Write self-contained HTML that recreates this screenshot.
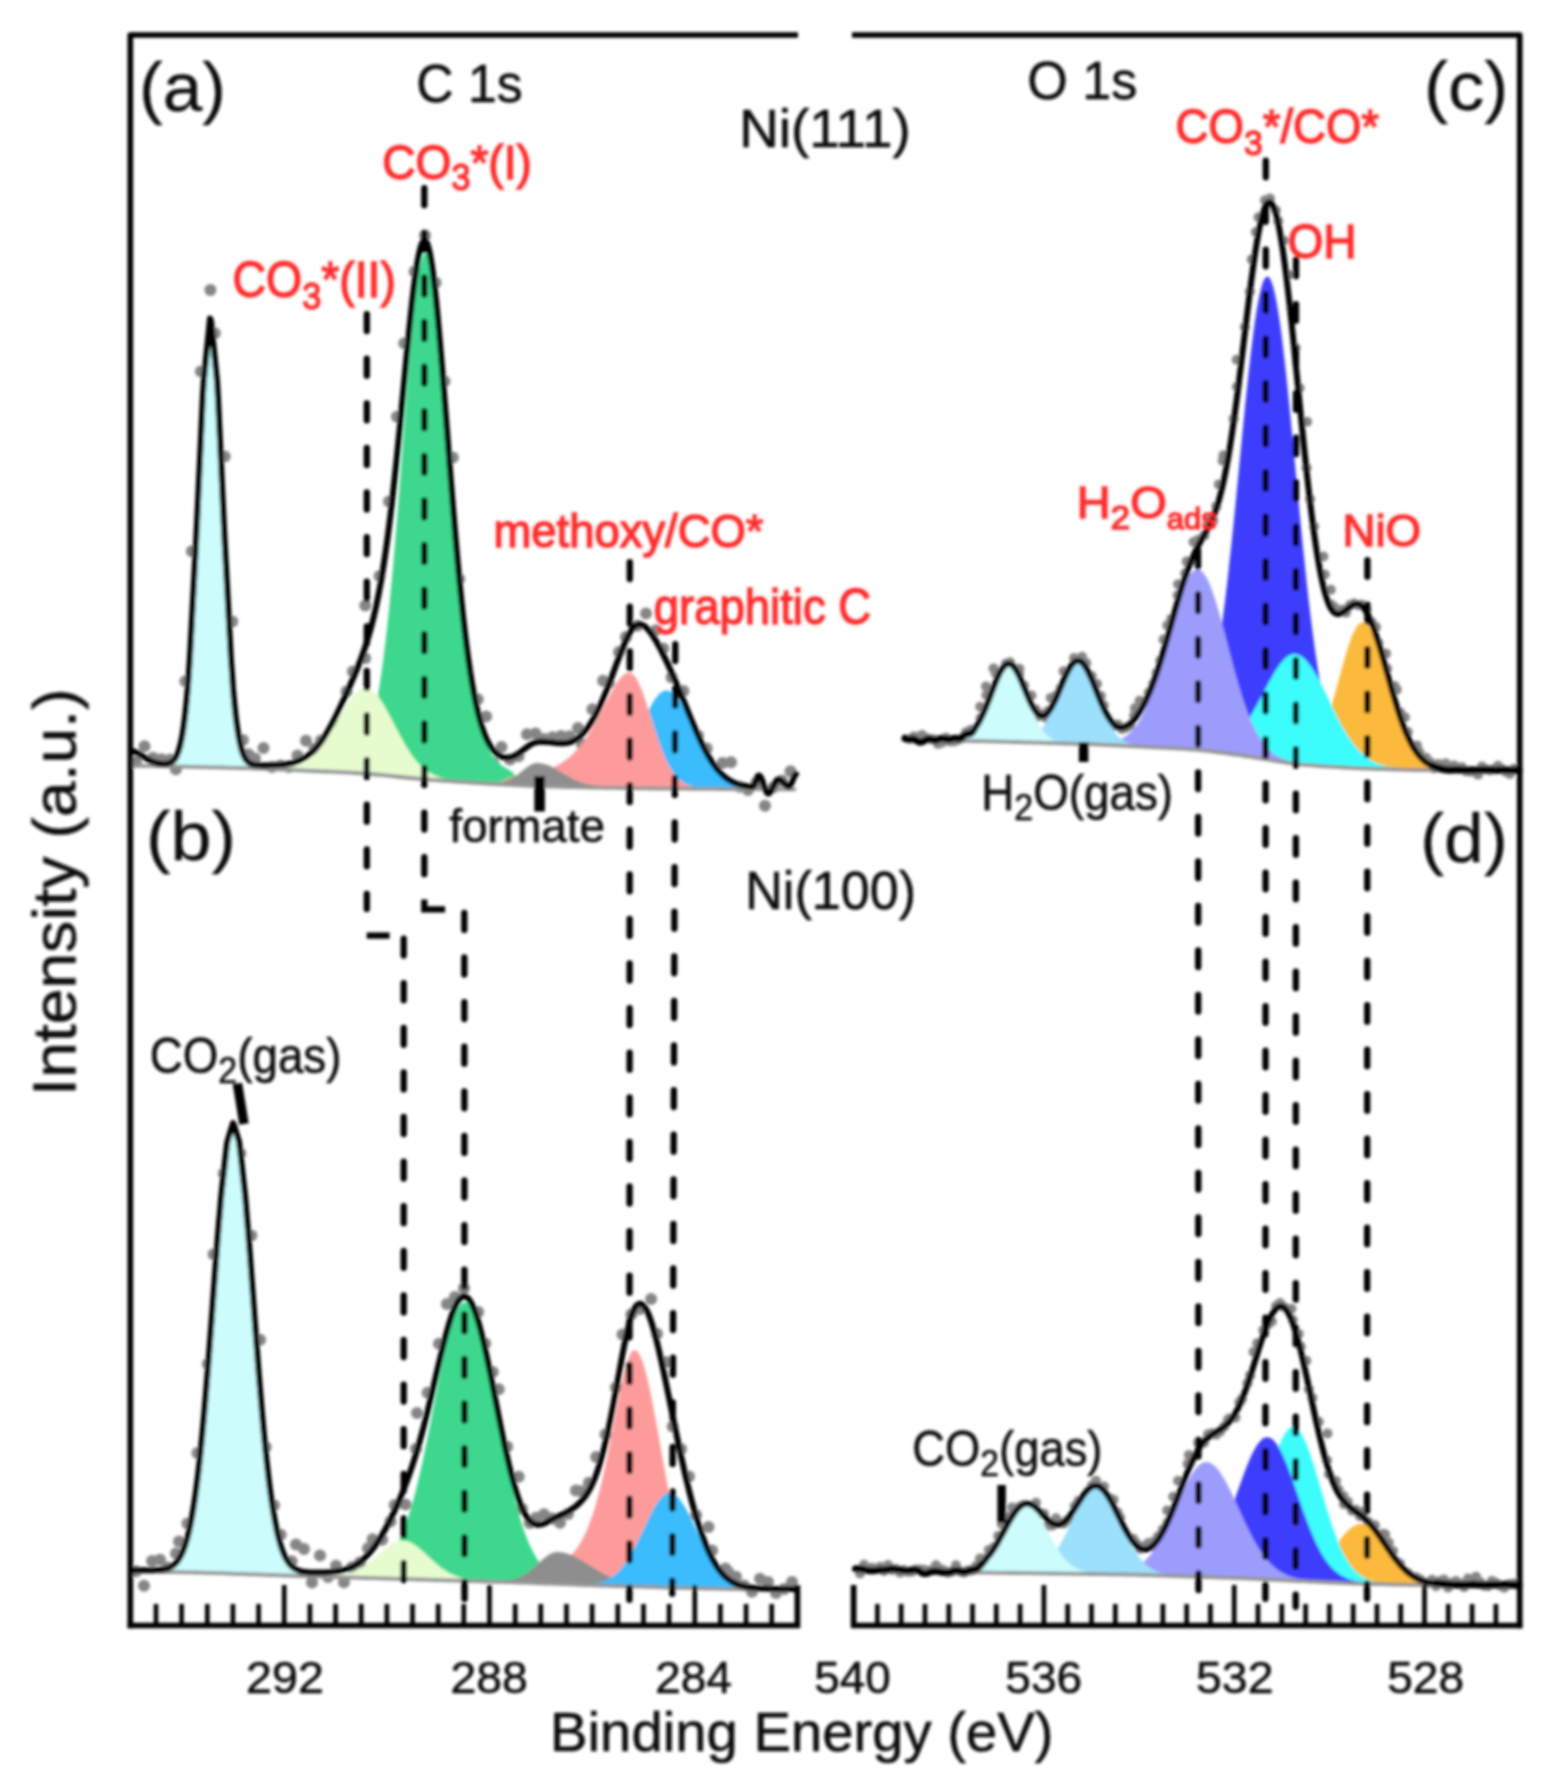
<!DOCTYPE html>
<html><head><meta charset="utf-8"><title>XPS C 1s / O 1s</title>
<style>
html,body{margin:0;padding:0;background:#fff}
svg{display:block}
text{font-family:"Liberation Sans",sans-serif}
</style></head><body>
<svg width="1548" height="1784" viewBox="0 0 1548 1784">
<defs><filter id="bl" x="0" y="0" width="1548" height="1784" filterUnits="userSpaceOnUse"><feGaussianBlur stdDeviation="1.4"/></filter></defs>
<rect width="1548" height="1784" fill="#fff"/>
<g filter="url(#bl)">
<g fill="#858585"><circle cx="136" cy="762" r="6"/><circle cx="144.5" cy="746.2" r="6"/><circle cx="153" cy="757.7" r="6"/><circle cx="161.5" cy="759.2" r="6"/><circle cx="170" cy="759.6" r="6"/><circle cx="175.9" cy="769.3" r="6"/><circle cx="185.4" cy="681.2" r="6"/><circle cx="191.9" cy="551.2" r="6"/><circle cx="200.9" cy="371.4" r="6"/><circle cx="214.8" cy="333.3" r="6"/><circle cx="224.7" cy="456.6" r="6"/><circle cx="232.3" cy="621.4" r="6"/><circle cx="242.9" cy="740.1" r="6"/><circle cx="248.3" cy="754.3" r="6"/><circle cx="255" cy="758.6" r="6"/><circle cx="263.5" cy="747.9" r="6"/><circle cx="272" cy="767" r="6"/><circle cx="280.5" cy="765.6" r="6"/><circle cx="289" cy="767.1" r="6"/><circle cx="297.5" cy="755.6" r="6"/><circle cx="306" cy="740.8" r="6"/><circle cx="314.5" cy="748.7" r="6"/><circle cx="321" cy="740.5" r="6"/><circle cx="330.2" cy="744.9" r="6"/><circle cx="339.5" cy="726.1" r="6"/><circle cx="346.6" cy="691.5" r="6"/><circle cx="352.9" cy="671.5" r="6"/><circle cx="365.1" cy="658.2" r="6"/><circle cx="365.3" cy="605.5" r="6"/><circle cx="379.6" cy="576.1" r="6"/><circle cx="389" cy="501.4" r="6"/><circle cx="396.9" cy="416.8" r="6"/><circle cx="404.3" cy="343.3" r="6"/><circle cx="414.6" cy="271.5" r="6"/><circle cx="425" cy="235.5" r="6"/><circle cx="435.6" cy="282.7" r="6"/><circle cx="444.5" cy="381.2" r="6"/><circle cx="452.8" cy="457.5" r="6"/><circle cx="459.2" cy="579" r="6"/><circle cx="468" cy="673.2" r="6"/><circle cx="477.7" cy="699.2" r="6"/><circle cx="486.1" cy="716.6" r="6"/><circle cx="493.4" cy="762.9" r="6"/><circle cx="501.5" cy="747" r="6"/><circle cx="510" cy="759.4" r="6"/><circle cx="518.5" cy="756.2" r="6"/><circle cx="527" cy="734.3" r="6"/><circle cx="535.5" cy="733.5" r="6"/><circle cx="544" cy="739.1" r="6"/><circle cx="552.5" cy="737.3" r="6"/><circle cx="561" cy="736.1" r="6"/><circle cx="569.5" cy="736.3" r="6"/><circle cx="578" cy="728" r="6"/><circle cx="582" cy="744.2" r="6"/><circle cx="592.4" cy="709.2" r="6"/><circle cx="603.1" cy="680.8" r="6"/><circle cx="608.9" cy="682.7" r="6"/><circle cx="619" cy="652.1" r="6"/><circle cx="625.9" cy="637" r="6"/><circle cx="637.5" cy="625.7" r="6"/><circle cx="646" cy="613.5" r="6"/><circle cx="655.8" cy="630.3" r="6"/><circle cx="663.3" cy="648.6" r="6"/><circle cx="671.6" cy="677.3" r="6"/><circle cx="683.4" cy="690.9" r="6"/><circle cx="690.3" cy="732.9" r="6"/><circle cx="698" cy="735.8" r="6"/><circle cx="706.7" cy="748.5" r="6"/><circle cx="715.9" cy="782.3" r="6"/><circle cx="722.5" cy="763" r="6"/><circle cx="731" cy="762.3" r="6"/><circle cx="739.5" cy="786.7" r="6"/><circle cx="748" cy="790.1" r="6"/><circle cx="756.5" cy="782.6" r="6"/><circle cx="765" cy="805.8" r="6"/><circle cx="773.5" cy="787.2" r="6"/><circle cx="782" cy="780.8" r="6"/><circle cx="790.5" cy="771.3" r="6"/><circle cx="210.4" cy="290" r="6"/></g>
<path d="M167 765.2 L169 764.6 L171 763.8 L173 762.4 L175 760.1 L177 756.6 L179 751.3 L181 743.7 L183 732.9 L185 718.2 L187 698.9 L189 672.5 L191 638.8 L193 601.5 L195 564.2 L197 525.1 L199 481.8 L201 438.5 L203 395.2 L205 370.5 L207 350.5 L209 330.4 L211 322.4 L213 342.6 L215 362.7 L217 382.9 L219 421.6 L221 465 L223 508.4 L225 550 L227 587.4 L229 624.8 L231 662.2 L233 690.8 L235 712.3 L237 728.8 L239 741.2 L241 750.1 L243 756.3 L245 760.6 L247 763.4 L249 765.2 L251 766.4 L253 767.1 L253 769.1 L251 769 L249 769 L247 768.9 L245 768.9 L243 768.8 L241 768.7 L239 768.7 L237 768.6 L235 768.6 L233 768.5 L231 768.5 L229 768.4 L227 768.4 L225 768.3 L223 768.3 L221 768.2 L219 768.2 L217 768.2 L215 768.1 L213 768.1 L211 768 L209 768 L207 767.9 L205 767.9 L203 767.8 L201 767.8 L199 767.7 L197 767.7 L195 767.6 L193 767.6 L191 767.5 L189 767.5 L187 767.4 L185 767.4 L183 767.3 L181 767.3 L179 767.2 L177 767.2 L175 767.2 L173 767.1 L171 767.1 L169 767 L167 767Z" fill="#ccfcfc"/>
<path d="M325 770.4 L327 770.1 L329 769.7 L331 769 L333 768.3 L335 767.3 L337 766.4 L339 765.4 L341 764.7 L343 764.1 L345 763.5 L347 762.8 L349 762 L351 760.9 L353 759.6 L355 758 L357 756.1 L359 753.8 L361 751 L363 747.6 L365 743.6 L367 738.9 L369 733.3 L371 726.7 L373 719.1 L375 710.3 L377 700.2 L379 688.8 L381 675.9 L383 661.6 L385 645.6 L387 628.1 L389 609.1 L391 588.5 L393 566.6 L395 543.4 L397 519.1 L399 494 L401 468.3 L403 442.3 L405 416.5 L407 391.1 L409 366.6 L411 343.4 L413 321.9 L415 302.7 L417 286.1 L419 272.6 L421 262.4 L423 255.8 L425 253.1 L427 254.3 L429 259.6 L431 268.8 L433 281.6 L435 297.7 L437 316.5 L439 337.6 L441 360.6 L443 384.9 L445 410 L447 435.7 L449 461.3 L451 486.8 L453 511.6 L455 535.7 L457 558.7 L459 580.5 L461 601 L463 620.1 L465 637.7 L467 653.9 L469 668.6 L471 681.9 L473 693.8 L475 704.4 L477 713.8 L479 722.1 L481 729.3 L483 735.6 L485 741.1 L487 745.8 L489 749.9 L491 753.4 L493 756.4 L495 759 L497 761.2 L499 763.2 L501 764.8 L503 766.3 L505 767.5 L507 768.7 L509 769.7 L511 771 L513 772.9 L515 775 L517 777.2 L519 779.3 L521 781 L523 782.4 L525 783.5 L527 784.2 L529 784.7 L529 786.4 L527 786.3 L525 786.2 L523 786.2 L521 786.1 L519 786 L517 785.9 L515 785.8 L513 785.7 L511 785.6 L509 785.5 L507 785.4 L505 785.3 L503 785.2 L501 785.1 L499 785 L497 784.9 L495 784.8 L493 784.7 L491 784.5 L489 784.4 L487 784.3 L485 784.2 L483 784 L481 783.9 L479 783.8 L477 783.7 L475 783.5 L473 783.4 L471 783.3 L469 783.1 L467 783 L465 782.9 L463 782.7 L461 782.6 L459 782.5 L457 782.3 L455 782.2 L453 782.1 L451 781.9 L449 781.8 L447 781.7 L445 781.5 L443 781.4 L441 781.2 L439 781.1 L437 780.9 L435 780.8 L433 780.6 L431 780.5 L429 780.3 L427 780.2 L425 780 L423 779.8 L421 779.6 L419 779.5 L417 779.3 L415 779.1 L413 778.9 L411 778.7 L409 778.5 L407 778.3 L405 778.1 L403 777.9 L401 777.7 L399 777.5 L397 777.3 L395 777 L393 776.8 L391 776.6 L389 776.4 L387 776.2 L385 776 L383 775.8 L381 775.6 L379 775.4 L377 775.3 L375 775.1 L373 774.9 L371 774.7 L369 774.6 L367 774.4 L365 774.3 L363 774.1 L361 774 L359 773.8 L357 773.7 L355 773.6 L353 773.5 L351 773.4 L349 773.3 L347 773.2 L345 773.1 L343 773 L341 772.9 L339 772.8 L337 772.7 L335 772.6 L333 772.5 L331 772.4 L329 772.3 L327 772.2 L325 772.1Z" fill="#3dd88e"/>
<path d="M277 768.2 L279 768.2 L281 768.1 L283 768 L285 767.8 L287 767.6 L289 767.4 L291 767 L293 766.6 L295 766.2 L297 765.6 L299 764.9 L301 764.1 L303 763.2 L305 762.1 L307 760.9 L309 759.5 L311 757.9 L313 756.2 L315 754.3 L317 752.2 L319 749.9 L321 747.4 L323 744.7 L325 741.8 L327 738.8 L329 735.6 L331 732.2 L333 728.8 L335 725.3 L337 721.7 L339 718.1 L341 714.5 L343 711 L345 707.6 L347 704.3 L349 701.3 L351 698.4 L353 695.9 L355 693.6 L357 691.7 L359 690.1 L361 689 L363 688.3 L365 688 L367 688.1 L369 688.7 L371 689.7 L373 691.2 L375 693 L377 695.2 L379 697.8 L381 700.7 L383 703.8 L385 707.2 L387 710.8 L389 714.5 L391 718.3 L393 722.2 L395 726.1 L397 729.9 L399 733.8 L401 737.5 L403 741.1 L405 744.6 L407 747.9 L409 751.1 L411 754.1 L413 756.9 L415 759.5 L417 761.9 L419 764.1 L421 766.1 L423 767.9 L425 769.5 L427 771 L429 772.3 L431 773.5 L433 774.6 L435 775.5 L437 776.3 L439 777 L441 777.7 L443 778.2 L445 778.7 L447 779.2 L449 779.5 L451 779.9 L453 780.2 L455 780.5 L455 782.2 L453 782.1 L451 781.9 L449 781.8 L447 781.7 L445 781.5 L443 781.4 L441 781.2 L439 781.1 L437 780.9 L435 780.8 L433 780.6 L431 780.5 L429 780.3 L427 780.2 L425 780 L423 779.8 L421 779.6 L419 779.5 L417 779.3 L415 779.1 L413 778.9 L411 778.7 L409 778.5 L407 778.3 L405 778.1 L403 777.9 L401 777.7 L399 777.5 L397 777.3 L395 777 L393 776.8 L391 776.6 L389 776.4 L387 776.2 L385 776 L383 775.8 L381 775.6 L379 775.4 L377 775.3 L375 775.1 L373 774.9 L371 774.7 L369 774.6 L367 774.4 L365 774.3 L363 774.1 L361 774 L359 773.8 L357 773.7 L355 773.6 L353 773.5 L351 773.4 L349 773.3 L347 773.2 L345 773.1 L343 773 L341 772.9 L339 772.8 L337 772.7 L335 772.6 L333 772.5 L331 772.4 L329 772.3 L327 772.2 L325 772.1 L323 772.1 L321 772 L319 771.9 L317 771.8 L315 771.7 L313 771.6 L311 771.5 L309 771.4 L307 771.3 L305 771.2 L303 771.1 L301 771.1 L299 771 L297 770.9 L295 770.8 L293 770.7 L291 770.6 L289 770.5 L287 770.4 L285 770.3 L283 770.2 L281 770.2 L279 770.1 L277 770Z" fill="#e6fccf"/>
<path d="M581 786.3 L583 786.2 L585 786 L587 785.9 L589 785.6 L591 785.3 L593 785 L595 784.5 L597 784 L599 783.3 L601 782.6 L603 781.7 L605 780.6 L607 779.4 L609 778 L611 776.5 L613 774.7 L615 772.6 L617 770.4 L619 767.9 L621 765.2 L623 762.2 L625 758.9 L627 755.5 L629 751.8 L631 747.9 L633 743.8 L635 739.6 L637 735.2 L639 730.8 L641 726.4 L643 722 L645 717.7 L647 713.5 L649 709.5 L651 705.7 L653 702.3 L655 699.2 L657 696.5 L659 694.3 L661 692.5 L663 691.3 L665 690.6 L667 690.5 L669 690.9 L671 691.8 L673 693.2 L675 695.1 L677 697.4 L679 700.2 L681 703.3 L683 706.7 L685 710.4 L687 714.3 L689 718.4 L691 722.6 L693 726.9 L695 731.3 L697 735.6 L699 739.8 L701 743.9 L703 747.9 L705 751.7 L707 755.4 L709 758.8 L711 762.1 L713 765.1 L715 767.8 L717 770.4 L719 772.7 L721 774.8 L723 776.7 L725 778.3 L727 779.8 L729 781.2 L731 782.3 L733 783.3 L735 784.2 L737 784.9 L739 785.6 L741 786.1 L743 786.6 L745 787 L747 787.3 L749 787.6 L751 787.8 L753 788 L755 788.2 L755 789.9 L753 789.9 L751 789.9 L749 789.9 L747 789.9 L745 789.8 L743 789.8 L741 789.8 L739 789.8 L737 789.8 L735 789.8 L733 789.8 L731 789.7 L729 789.7 L727 789.7 L725 789.7 L723 789.7 L721 789.7 L719 789.7 L717 789.7 L715 789.6 L713 789.6 L711 789.6 L709 789.6 L707 789.6 L705 789.6 L703 789.6 L701 789.5 L699 789.5 L697 789.5 L695 789.5 L693 789.5 L691 789.5 L689 789.5 L687 789.4 L685 789.4 L683 789.4 L681 789.4 L679 789.4 L677 789.4 L675 789.4 L673 789.4 L671 789.3 L669 789.3 L667 789.3 L665 789.3 L663 789.3 L661 789.3 L659 789.2 L657 789.2 L655 789.2 L653 789.2 L651 789.2 L649 789.1 L647 789.1 L645 789.1 L643 789.1 L641 789 L639 789 L637 789 L635 788.9 L633 788.9 L631 788.9 L629 788.8 L627 788.8 L625 788.8 L623 788.7 L621 788.7 L619 788.7 L617 788.6 L615 788.6 L613 788.6 L611 788.5 L609 788.5 L607 788.5 L605 788.5 L603 788.4 L601 788.4 L599 788.3 L597 788.3 L595 788.3 L593 788.2 L591 788.2 L589 788.2 L587 788.1 L585 788.1 L583 788.1 L581 788Z" fill="#3abcfd"/>
<path d="M492 782.9 L494 782.8 L496 782.5 L498 782.2 L500 781.7 L502 781.1 L504 780.4 L506 779.6 L508 778.8 L510 777.9 L512 777.2 L514 776.5 L516 776 L518 775.8 L520 775.6 L522 775.3 L524 775.1 L526 774.8 L528 774.5 L530 774.1 L532 773.8 L534 773.4 L536 773 L538 772.5 L540 772 L542 771.5 L544 770.9 L546 770.2 L548 769.5 L550 768.8 L552 767.9 L554 767 L556 766.1 L558 765 L560 763.9 L562 762.6 L564 761.3 L566 759.8 L568 758.2 L570 756.5 L572 754.7 L574 752.8 L576 750.7 L578 748.5 L580 746.1 L582 743.6 L584 740.9 L586 738.1 L588 735.1 L590 732 L592 728.7 L594 725.3 L596 721.7 L598 718.1 L600 714.3 L602 710.4 L604 706.5 L606 702.6 L608 698.7 L610 694.8 L612 691.1 L614 687.5 L616 684.2 L618 681.1 L620 678.5 L622 676.2 L624 674.5 L626 673.3 L628 672.7 L630 672.7 L632 673.6 L634 675.4 L636 678.1 L638 681.6 L640 685.8 L642 690.7 L644 696.1 L646 701.9 L648 708.1 L650 714.4 L652 720.7 L654 727 L656 733.2 L658 739.2 L660 744.9 L662 750.2 L664 755.2 L666 759.7 L668 763.8 L670 767.5 L672 770.8 L674 773.7 L676 776.2 L678 778.4 L680 780.2 L682 781.8 L684 783.1 L686 784.1 L688 785 L690 785.7 L692 786.3 L694 786.8 L696 787.2 L698 787.5 L700 787.7 L700 789.5 L698 789.5 L696 789.5 L694 789.5 L692 789.5 L690 789.5 L688 789.5 L686 789.4 L684 789.4 L682 789.4 L680 789.4 L678 789.4 L676 789.4 L674 789.4 L672 789.3 L670 789.3 L668 789.3 L666 789.3 L664 789.3 L662 789.3 L660 789.2 L658 789.2 L656 789.2 L654 789.2 L652 789.2 L650 789.1 L648 789.1 L646 789.1 L644 789.1 L642 789 L640 789 L638 789 L636 789 L634 788.9 L632 788.9 L630 788.9 L628 788.8 L626 788.8 L624 788.8 L622 788.7 L620 788.7 L618 788.7 L616 788.6 L614 788.6 L612 788.6 L610 788.5 L608 788.5 L606 788.5 L604 788.4 L602 788.4 L600 788.4 L598 788.3 L596 788.3 L594 788.3 L592 788.2 L590 788.2 L588 788.2 L586 788.1 L584 788.1 L582 788.1 L580 788 L578 788 L576 787.9 L574 787.9 L572 787.9 L570 787.8 L568 787.8 L566 787.7 L564 787.7 L562 787.6 L560 787.6 L558 787.5 L556 787.4 L554 787.4 L552 787.3 L550 787.2 L548 787.2 L546 787.1 L544 787 L542 786.9 L540 786.9 L538 786.8 L536 786.7 L534 786.6 L532 786.5 L530 786.4 L528 786.4 L526 786.3 L524 786.2 L522 786.1 L520 786 L518 785.9 L516 785.8 L514 785.8 L512 785.7 L510 785.6 L508 785.5 L506 785.4 L504 785.3 L502 785.2 L500 785.1 L498 785 L496 784.8 L494 784.7 L492 784.6Z" fill="#fd9b9b"/>
<path d="M494 783 L496 782.9 L498 782.8 L500 782.5 L502 782.2 L504 781.7 L506 781.1 L508 780.4 L510 779.5 L512 778.4 L514 777.2 L516 775.9 L518 774.4 L520 772.8 L522 771.2 L524 769.6 L526 768 L528 766.6 L530 765.3 L532 764.3 L534 763.5 L536 763.1 L538 763 L540 763.2 L542 763.5 L544 763.9 L546 764.5 L548 765.3 L550 766.1 L552 767.1 L554 768.1 L556 769.2 L558 770.3 L560 771.5 L562 772.7 L564 773.9 L566 775.1 L568 776.2 L570 777.3 L572 778.4 L574 779.4 L576 780.3 L578 781.2 L580 781.9 L582 782.7 L584 783.3 L586 783.9 L588 784.4 L590 784.8 L592 785.2 L594 785.6 L596 785.9 L598 786.1 L600 786.4 L602 786.6 L604 786.7 L604 788.4 L602 788.4 L600 788.4 L598 788.3 L596 788.3 L594 788.3 L592 788.2 L590 788.2 L588 788.2 L586 788.1 L584 788.1 L582 788.1 L580 788 L578 788 L576 787.9 L574 787.9 L572 787.9 L570 787.8 L568 787.8 L566 787.7 L564 787.7 L562 787.6 L560 787.6 L558 787.5 L556 787.4 L554 787.4 L552 787.3 L550 787.2 L548 787.2 L546 787.1 L544 787 L542 786.9 L540 786.9 L538 786.8 L536 786.7 L534 786.6 L532 786.5 L530 786.4 L528 786.4 L526 786.3 L524 786.2 L522 786.1 L520 786 L518 785.9 L516 785.8 L514 785.8 L512 785.7 L510 785.6 L508 785.5 L506 785.4 L504 785.3 L502 785.2 L500 785.1 L498 785 L496 784.8 L494 784.7Z" fill="#8e8e8e"/>
<path d="M131 765.6 L136 765.7 L141 765.8 L146 765.9 L151 765.9 L156 766 L161 766.1 L166 766.3 L171 766.4 L176 766.5 L181 766.6 L186 766.7 L191 766.8 L196 766.9 L201 767.1 L206 767.2 L211 767.3 L216 767.4 L221 767.5 L226 767.7 L231 767.8 L236 767.9 L241 768 L246 768.2 L251 768.3 L256 768.5 L261 768.7 L266 768.8 L271 769 L276 769.2 L281 769.5 L286 769.7 L291 769.9 L296 770.1 L301 770.4 L306 770.6 L311 770.8 L316 771 L321 771.3 L326 771.5 L331 771.7 L336 771.9 L341 772.2 L346 772.4 L351 772.7 L356 773 L361 773.3 L366 773.6 L371 774 L376 774.5 L381 774.9 L386 775.4 L391 775.9 L396 776.5 L401 777 L406 777.5 L411 778 L416 778.5 L421 778.9 L426 779.4 L431 779.8 L436 780.2 L441 780.5 L446 780.9 L451 781.2 L456 781.6 L461 781.9 L466 782.2 L471 782.6 L476 782.9 L481 783.2 L486 783.5 L491 783.8 L496 784.1 L501 784.4 L506 784.7 L511 784.9 L516 785.1 L521 785.4 L526 785.6 L531 785.8 L536 786 L541 786.2 L546 786.4 L551 786.6 L556 786.7 L561 786.9 L566 787 L571 787.1 L576 787.2 L581 787.3 L586 787.4 L591 787.5 L596 787.6 L601 787.7 L606 787.8 L611 787.8 L616 787.9 L621 788 L626 788.1 L631 788.2 L636 788.3 L641 788.3 L646 788.4 L651 788.5 L656 788.5 L661 788.6 L666 788.6 L671 788.6 L676 788.7 L681 788.7 L686 788.7 L691 788.8 L696 788.8 L701 788.8 L706 788.9 L711 788.9 L716 788.9 L721 789 L726 789 L731 789 L736 789.1 L741 789.1 L746 789.1 L751 789.2 L756 789.2 L761 789.2 L766 789.3 L771 789.3 L776 789.3 L781 789.4 L786 789.4 L791 789.4 L796 789.4" fill="none" stroke="#959595" stroke-width="3.8"/>
<path d="M131 751.1 L132 751.1 L133 751.3 L134 751.5 L135 751.8 L136 752.2 L137 752.6 L138 753.2 L139 753.7 L140 754.3 L141 755 L142 755.6 L143 756.3 L144 757 L145 757.6 L146 758.3 L147 758.9 L148 759.5 L149 760 L150 760.5 L151 761 L152 761.5 L153 761.9 L154 762.2 L155 762.5 L156 762.8 L157 763.1 L158 763.3 L159 763.5 L160 763.6 L161 763.7 L162 763.8 L163 763.9 L164 763.9 L165 763.9 L166 763.8 L167 763.7 L168 763.5 L169 763.2 L170 762.9 L171 762.4 L172 761.8 L173 761 L174 760 L175 758.8 L176 757.2 L177 755.2 L178 752.8 L179 749.9 L180 746.4 L181 742.2 L182 737.3 L183 731.4 L184 724.6 L185 716.7 L186 707.7 L187 697.4 L188 685.8 L189 671 L190 655.9 L191 637.3 L192 618.6 L193 600 L194 581.3 L195 562.7 L196 544 L197 523.6 L198 501.9 L199 480.2 L200 458.6 L201 436.9 L202 415.2 L203 393.6 L204 378.9 L205 368.8 L206 358.8 L207 348.8 L208 338.7 L209 328.7 L210 318.6 L211 320.7 L212 330.7 L213 340.8 L214 350.9 L215 360.9 L216 371 L217 381 L218 398.1 L219 419.8 L220 441.4 L221 463.1 L222 484.8 L223 506.5 L224 528.2 L225 548.1 L226 566.7 L227 585.4 L228 604.1 L229 622.8 L230 641.4 L231 660.1 L232 673.4 L233 688.7 L234 700.1 L235 710.1 L236 719 L237 726.7 L238 733.3 L239 739 L240 743.8 L241 747.9 L242 751.3 L243 754.1 L244 756.4 L245 758.3 L246 759.8 L247 761 L248 762 L249 762.8 L250 763.4 L251 763.9 L252 764.3 L253 764.6 L254 764.8 L255 764.9 L256 765.1 L257 765.2 L258 765.2 L259 765.3 L260 765.3 L261 765.3 L262 765.4 L263 765.4 L264 765.4 L265 765.4 L266 765.4 L267 765.4 L268 765.4 L269 765.3 L270 765.3 L271 765.3 L272 765.3 L273 765.3 L274 765.2 L275 765.2 L276 765.1 L277 765.1 L278 765 L279 765 L280 764.9 L281 764.8 L282 764.7 L283 764.6 L284 764.5 L285 764.4 L286 764.3 L287 764.1 L288 764 L289 763.8 L290 763.6 L291 763.4 L292 763.1 L293 762.9 L294 762.6 L295 762.3 L296 762 L297 761.6 L298 761.3 L299 760.8 L300 760.4 L301 759.9 L302 759.4 L303 758.9 L304 758.3 L305 757.7 L306 757.1 L307 756.4 L308 755.6 L309 754.9 L310 754 L311 753.2 L312 752.3 L313 751.3 L314 750.3 L315 749.2 L316 748.1 L317 747 L318 745.8 L319 744.5 L320 743.2 L321 741.8 L322 740.4 L323 738.9 L324 737.4 L325 735.9 L326 734.2 L327 732.6 L328 730.9 L329 729.1 L330 727.3 L331 725.5 L332 723.6 L333 721.7 L334 719.8 L335 717.8 L336 715.8 L337 713.8 L338 711.7 L339 709.6 L340 707.5 L341 705.4 L342 703.2 L343 701.1 L344 698.9 L345 696.7 L346 694.5 L347 692.3 L348 690 L349 687.8 L350 685.5 L351 683.2 L352 680.9 L353 678.6 L354 676.2 L355 673.8 L356 671.4 L357 669 L358 666.5 L359 664 L360 661.4 L361 658.8 L362 656.1 L363 653.3 L364 650.4 L365 647.5 L366 644.5 L367 641.3 L368 638.1 L369 634.7 L370 631.2 L371 627.6 L372 623.8 L373 619.8 L374 615.7 L375 611.4 L376 606.9 L377 602.2 L378 597.2 L379 592.1 L380 586.7 L381 581.1 L382 575.2 L383 569.1 L384 562.7 L385 556 L386 549.1 L387 541.9 L388 534.4 L389 526.6 L390 518.6 L391 510.4 L392 501.8 L393 493 L394 484 L395 474.7 L396 465.2 L397 455.5 L398 445.6 L399 435.5 L400 425.3 L401 414.9 L402 404.4 L403 393.9 L404 383.4 L405 372.9 L406 362.4 L407 352 L408 341.8 L409 331.7 L410 322 L411 312.5 L412 303.3 L413 294.6 L414 286.4 L415 278.6 L416 271.5 L417 264.9 L418 259.1 L419 253.9 L420 249.5 L421 246 L422 243.2 L423 241.4 L424 240.4 L425 240.3 L426 241.2 L427 243 L428 245.8 L429 249.5 L430 254.2 L431 259.8 L432 266.2 L433 273.5 L434 281.6 L435 290.3 L436 299.8 L437 309.8 L438 320.4 L439 331.5 L440 343 L441 354.9 L442 367.1 L443 379.5 L444 392.2 L445 405 L446 417.9 L447 430.8 L448 443.8 L449 456.7 L450 469.5 L451 482.2 L452 494.8 L453 507.2 L454 519.3 L455 531.3 L456 542.9 L457 554.3 L458 565.4 L459 576.1 L460 586.5 L461 596.6 L462 606.3 L463 615.7 L464 624.6 L465 633.3 L466 641.5 L467 649.4 L468 656.9 L469 664 L470 670.8 L471 677.2 L472 683.3 L473 689 L474 694.4 L475 699.5 L476 704.3 L477 708.8 L478 713 L479 716.9 L480 720.6 L481 724 L482 727.2 L483 730.1 L484 732.9 L485 735.4 L486 737.8 L487 740 L488 742 L489 743.8 L490 745.5 L491 747.1 L492 748.5 L493 749.8 L494 751 L495 752.1 L496 753 L497 753.9 L498 754.6 L499 755.3 L500 755.9 L501 756.4 L502 756.8 L503 757.1 L504 757.4 L505 757.6 L506 757.7 L507 757.7 L508 757.7 L509 757.5 L510 757.4 L511 757.1 L512 756.8 L513 756.4 L514 756 L515 755.5 L516 755 L517 754.4 L518 753.7 L519 753.1 L520 752.4 L521 751.6 L522 750.9 L523 750.1 L524 749.3 L525 748.6 L526 747.8 L527 747.1 L528 746.4 L529 745.7 L530 745 L531 744.4 L532 743.9 L533 743.4 L534 742.9 L535 742.6 L536 742.3 L537 742.1 L538 741.9 L539 741.8 L540 741.8 L541 741.7 L542 741.7 L543 741.7 L544 741.7 L545 741.8 L546 741.9 L547 741.9 L548 742 L549 742.1 L550 742.2 L551 742.4 L552 742.5 L553 742.6 L554 742.7 L555 742.9 L556 743 L557 743.1 L558 743.2 L559 743.3 L560 743.3 L561 743.3 L562 743.3 L563 743.3 L564 743.3 L565 743.2 L566 743.1 L567 742.9 L568 742.7 L569 742.5 L570 742.2 L571 741.8 L572 741.5 L573 741 L574 740.5 L575 740 L576 739.4 L577 738.7 L578 738 L579 737.2 L580 736.4 L581 735.5 L582 734.5 L583 733.5 L584 732.4 L585 731.2 L586 730 L587 728.7 L588 727.4 L589 725.9 L590 724.5 L591 722.9 L592 721.3 L593 719.6 L594 717.8 L595 716 L596 714.1 L597 712.1 L598 710.1 L599 708 L600 705.9 L601 703.7 L602 701.4 L603 699.1 L604 696.7 L605 694.2 L606 691.8 L607 689.2 L608 686.7 L609 684.1 L610 681.4 L611 678.8 L612 676.1 L613 673.4 L614 670.7 L615 668 L616 665.3 L617 662.6 L618 659.9 L619 657.3 L620 654.7 L621 652.1 L622 649.6 L623 647.2 L624 644.8 L625 642.5 L626 640.3 L627 638.2 L628 636.1 L629 634.2 L630 632.4 L631 630.7 L632 629.3 L633 628 L634 626.9 L635 626.1 L636 625.4 L637 624.8 L638 624.5 L639 624.3 L640 624.3 L641 624.5 L642 624.8 L643 625.2 L644 625.8 L645 626.6 L646 627.4 L647 628.4 L648 629.4 L649 630.6 L650 631.9 L651 633.2 L652 634.6 L653 636.1 L654 637.7 L655 639.3 L656 641 L657 642.7 L658 644.5 L659 646.4 L660 648.2 L661 650.1 L662 652.1 L663 654.1 L664 656.1 L665 658.2 L666 660.3 L667 662.4 L668 664.6 L669 666.7 L670 668.9 L671 671.2 L672 673.4 L673 675.7 L674 677.9 L675 680.2 L676 682.6 L677 684.9 L678 687.3 L679 689.6 L680 692 L681 694.5 L682 696.9 L683 699.3 L684 701.8 L685 704.2 L686 706.7 L687 709.1 L688 711.6 L689 714 L690 716.5 L691 718.9 L692 721.3 L693 723.7 L694 726.1 L695 728.5 L696 730.8 L697 733.1 L698 735.4 L699 737.6 L700 739.8 L701 742 L702 744.1 L703 746.1 L704 748.1 L705 750.1 L706 752 L707 753.8 L708 755.6 L709 757.3 L710 759 L711 760.6 L712 762.2 L713 763.7 L714 765.1 L715 766.5 L716 767.8 L717 769.1 L718 770.3 L719 771.4 L720 772.5 L721 773.5 L722 774.5 L723 775.5 L724 776.3 L725 777.2 L726 777.9 L727 778.7 L728 779.4 L729 780 L730 780.6 L731 781.2 L732 781.7 L733 782.2 L734 782.6 L735 783.1 L736 783.5 L737 783.8 L738 784.2 L739 784.5 L740 784.8 L741 785.1 L742 785.3 L743 785.5 L744 785.7 L745 785.9 L746 786.1 L747 786.3 L748 786.4 L749 786.6 L750 786.7 L751 786.8 L752 786.9 L753 786.7 L754 785.4 L755 783.1 L756 780.4 L757 777.8 L758 776 L759 775.5 L760 776.1 L761 777.7 L762 780 L763 782.8 L764 785.9 L765 788.7 L766 791.1 L767 792.8 L768 793.5 L769 793.3 L770 792.5 L771 791.1 L772 789.2 L773 787.2 L774 785 L775 783 L776 781.3 L777 780 L778 779.4 L779 779.3 L780 779.7 L781 780.3 L782 781.1 L783 782.1 L784 783.2 L785 784.3 L786 785.2 L787 785.9 L788 786.4 L789 786.5 L790 785.9 L791 784.3 L792 782 L793 779.5 L794 777.1 L795 775.2 L796 774.1" fill="none" stroke="#000" stroke-width="6" stroke-linejoin="round" stroke-linecap="round"/>
<g fill="#858585"><circle cx="136" cy="1571.2" r="6"/><circle cx="144" cy="1585.7" r="6"/><circle cx="152" cy="1561" r="6"/><circle cx="160" cy="1559.7" r="6"/><circle cx="168" cy="1567.5" r="6"/><circle cx="176" cy="1553.4" r="6"/><circle cx="179" cy="1541.5" r="6"/><circle cx="187.5" cy="1523.6" r="6"/><circle cx="197.4" cy="1453.1" r="6"/><circle cx="207.8" cy="1364.1" r="6"/><circle cx="213.6" cy="1254.2" r="6"/><circle cx="223.8" cy="1173.5" r="6"/><circle cx="231.7" cy="1142.8" r="6"/><circle cx="240.3" cy="1153.3" r="6"/><circle cx="251.4" cy="1235.5" r="6"/><circle cx="260.2" cy="1339.8" r="6"/><circle cx="265.7" cy="1447.1" r="6"/><circle cx="274" cy="1505.2" r="6"/><circle cx="280.7" cy="1534.8" r="6"/><circle cx="291.6" cy="1561.3" r="6"/><circle cx="296" cy="1544.4" r="6"/><circle cx="304" cy="1549" r="6"/><circle cx="312" cy="1582.6" r="6"/><circle cx="320" cy="1555.6" r="6"/><circle cx="328" cy="1577.1" r="6"/><circle cx="336" cy="1565.8" r="6"/><circle cx="344" cy="1582.3" r="6"/><circle cx="352" cy="1567.3" r="6"/><circle cx="360" cy="1562.5" r="6"/><circle cx="368" cy="1548.3" r="6"/><circle cx="372.6" cy="1539.2" r="6"/><circle cx="382.2" cy="1539.8" r="6"/><circle cx="390.5" cy="1521.4" r="6"/><circle cx="394.7" cy="1505.1" r="6"/><circle cx="405.5" cy="1504.5" r="6"/><circle cx="415.9" cy="1448.8" r="6"/><circle cx="417" cy="1413.1" r="6"/><circle cx="427.6" cy="1392.7" r="6"/><circle cx="438.9" cy="1343.8" r="6"/><circle cx="446.9" cy="1303.9" r="6"/><circle cx="454.8" cy="1296.9" r="6"/><circle cx="464" cy="1288.3" r="6"/><circle cx="478.2" cy="1311.9" r="6"/><circle cx="485.2" cy="1343.4" r="6"/><circle cx="492.8" cy="1372" r="6"/><circle cx="498.7" cy="1389.3" r="6"/><circle cx="507.2" cy="1446.8" r="6"/><circle cx="518.7" cy="1476.8" r="6"/><circle cx="521.9" cy="1508.7" r="6"/><circle cx="529.7" cy="1522.9" r="6"/><circle cx="536" cy="1517.7" r="6"/><circle cx="544" cy="1514.3" r="6"/><circle cx="552" cy="1518.4" r="6"/><circle cx="560" cy="1522.8" r="6"/><circle cx="568" cy="1514.1" r="6"/><circle cx="576" cy="1490.6" r="6"/><circle cx="581.1" cy="1491.2" r="6"/><circle cx="588.9" cy="1482.7" r="6"/><circle cx="596.2" cy="1457" r="6"/><circle cx="605.5" cy="1434.2" r="6"/><circle cx="615.9" cy="1387.6" r="6"/><circle cx="622.5" cy="1334.4" r="6"/><circle cx="631.4" cy="1314.3" r="6"/><circle cx="640" cy="1308.9" r="6"/><circle cx="651.1" cy="1299.1" r="6"/><circle cx="657" cy="1333.7" r="6"/><circle cx="665.9" cy="1362.1" r="6"/><circle cx="672.7" cy="1426.5" r="6"/><circle cx="681.1" cy="1449" r="6"/><circle cx="689" cy="1476.4" r="6"/><circle cx="696.1" cy="1514.9" r="6"/><circle cx="708.5" cy="1527" r="6"/><circle cx="712.1" cy="1550.6" r="6"/><circle cx="725.4" cy="1568.5" r="6"/><circle cx="728" cy="1571.7" r="6"/><circle cx="736" cy="1576.8" r="6"/><circle cx="744" cy="1585.6" r="6"/><circle cx="752" cy="1591.8" r="6"/><circle cx="760" cy="1578.7" r="6"/><circle cx="768" cy="1582" r="6"/><circle cx="776" cy="1593.1" r="6"/><circle cx="784" cy="1589" r="6"/><circle cx="792" cy="1581.9" r="6"/></g>
<path d="M160 1570.9 L162 1570.7 L164 1570.4 L166 1569.9 L168 1569.3 L170 1568.5 L172 1567.4 L174 1566 L176 1564.1 L178 1561.7 L180 1558.7 L182 1554.8 L184 1550 L186 1544.1 L188 1536.9 L190 1528.3 L192 1518.1 L194 1506.2 L196 1492.4 L198 1476.6 L200 1458.9 L202 1439.1 L204 1417.5 L206 1394.1 L208 1369.3 L210 1343.2 L212 1316.3 L214 1289.2 L216 1262.3 L218 1236.1 L220 1212.7 L222 1190.4 L224 1172.4 L226 1154.4 L228 1141 L230 1134.5 L232 1128 L234 1126.8 L236 1133.4 L238 1140.1 L240 1151.3 L242 1169.4 L244 1187.6 L246 1208.6 L248 1232.1 L250 1258.1 L252 1285.1 L254 1312.3 L256 1339.4 L258 1365.8 L260 1391.1 L262 1414.9 L264 1437 L266 1457.2 L268 1475.5 L270 1491.8 L272 1506.1 L274 1518.5 L276 1529.1 L278 1538.2 L280 1545.7 L282 1552 L284 1557.1 L286 1561.2 L288 1564.5 L290 1567.2 L292 1569.2 L294 1570.8 L296 1572.1 L298 1573 L300 1573.8 L302 1574.3 L304 1574.8 L306 1575.1 L306 1576.9 L304 1576.8 L302 1576.7 L300 1576.7 L298 1576.6 L296 1576.5 L294 1576.5 L292 1576.4 L290 1576.3 L288 1576.3 L286 1576.2 L284 1576.1 L282 1576.1 L280 1576 L278 1575.9 L276 1575.8 L274 1575.8 L272 1575.7 L270 1575.6 L268 1575.6 L266 1575.5 L264 1575.4 L262 1575.4 L260 1575.3 L258 1575.2 L256 1575.1 L254 1575.1 L252 1575 L250 1574.9 L248 1574.9 L246 1574.8 L244 1574.7 L242 1574.7 L240 1574.6 L238 1574.5 L236 1574.5 L234 1574.4 L232 1574.3 L230 1574.2 L228 1574.2 L226 1574.1 L224 1574 L222 1574 L220 1573.9 L218 1573.8 L216 1573.8 L214 1573.7 L212 1573.6 L210 1573.6 L208 1573.5 L206 1573.5 L204 1573.4 L202 1573.4 L200 1573.3 L198 1573.3 L196 1573.2 L194 1573.2 L192 1573.1 L190 1573.1 L188 1573.1 L186 1573 L184 1573 L182 1573 L180 1572.9 L178 1572.9 L176 1572.9 L174 1572.8 L172 1572.8 L170 1572.8 L168 1572.7 L166 1572.7 L164 1572.7 L162 1572.7 L160 1572.6Z" fill="#ccfcfc"/>
<path d="M333 1575.9 L335 1575.8 L337 1575.6 L339 1575.3 L341 1575 L343 1574.7 L345 1574.3 L347 1573.9 L349 1573.6 L351 1573.3 L353 1573.1 L355 1572.9 L357 1572.7 L359 1572.5 L361 1572.1 L363 1571.8 L365 1571.4 L367 1570.9 L369 1570.3 L371 1569.6 L373 1568.8 L375 1567.9 L377 1566.9 L379 1565.6 L381 1564.3 L383 1562.7 L385 1560.9 L387 1558.9 L389 1556.6 L391 1554 L393 1551.1 L395 1547.9 L397 1544.4 L399 1540.4 L401 1536.1 L403 1531.3 L405 1526.1 L407 1520.5 L409 1514.4 L411 1507.9 L413 1500.9 L415 1493.4 L417 1485.5 L419 1477.2 L421 1468.5 L423 1459.4 L425 1450 L427 1440.3 L429 1430.4 L431 1420.3 L433 1410.1 L435 1399.8 L437 1389.6 L439 1379.6 L441 1369.7 L443 1360.2 L445 1351.1 L447 1342.5 L449 1334.5 L451 1327.2 L453 1320.7 L455 1315.1 L457 1310.4 L459 1306.7 L461 1304.1 L463 1302.7 L465 1302.3 L467 1303.1 L469 1305 L471 1308 L473 1312 L475 1317 L477 1322.9 L479 1329.7 L481 1337.2 L483 1345.5 L485 1354.3 L487 1363.6 L489 1373.4 L491 1383.5 L493 1393.8 L495 1404.2 L497 1414.7 L499 1425.1 L501 1435.4 L503 1445.6 L505 1455.5 L507 1465.1 L509 1474.4 L511 1483.3 L513 1491.8 L515 1499.9 L517 1507.5 L519 1514.6 L521 1521.3 L523 1527.5 L525 1533.3 L527 1538.5 L529 1543.4 L531 1547.8 L533 1551.8 L535 1555.4 L537 1558.7 L539 1561.7 L541 1564.3 L543 1566.6 L545 1568.7 L547 1570.6 L549 1572.2 L551 1573.6 L553 1574.9 L555 1576 L557 1576.9 L559 1577.8 L561 1578.5 L563 1579.1 L565 1579.7 L567 1580.2 L569 1580.6 L571 1581 L573 1581.3 L575 1581.6 L577 1581.9 L579 1582.2 L581 1582.5 L583 1582.8 L585 1583.1 L587 1583.4 L589 1583.7 L591 1584 L591 1585.8 L589 1585.8 L587 1585.7 L585 1585.6 L583 1585.6 L581 1585.5 L579 1585.4 L577 1585.3 L575 1585.3 L573 1585.2 L571 1585.1 L569 1585 L567 1585 L565 1584.9 L563 1584.8 L561 1584.7 L559 1584.7 L557 1584.6 L555 1584.5 L553 1584.4 L551 1584.4 L549 1584.3 L547 1584.2 L545 1584.1 L543 1584.1 L541 1584 L539 1583.9 L537 1583.8 L535 1583.8 L533 1583.7 L531 1583.6 L529 1583.6 L527 1583.5 L525 1583.4 L523 1583.3 L521 1583.3 L519 1583.2 L517 1583.1 L515 1583.1 L513 1583 L511 1582.9 L509 1582.9 L507 1582.8 L505 1582.8 L503 1582.7 L501 1582.6 L499 1582.6 L497 1582.5 L495 1582.5 L493 1582.4 L491 1582.3 L489 1582.3 L487 1582.2 L485 1582.2 L483 1582.1 L481 1582 L479 1582 L477 1581.9 L475 1581.8 L473 1581.8 L471 1581.7 L469 1581.7 L467 1581.6 L465 1581.6 L463 1581.5 L461 1581.4 L459 1581.4 L457 1581.3 L455 1581.3 L453 1581.2 L451 1581.1 L449 1581.1 L447 1581 L445 1581 L443 1580.9 L441 1580.8 L439 1580.8 L437 1580.7 L435 1580.7 L433 1580.6 L431 1580.5 L429 1580.5 L427 1580.4 L425 1580.4 L423 1580.3 L421 1580.2 L419 1580.2 L417 1580.1 L415 1580.1 L413 1580 L411 1579.9 L409 1579.9 L407 1579.8 L405 1579.8 L403 1579.7 L401 1579.7 L399 1579.6 L397 1579.5 L395 1579.5 L393 1579.4 L391 1579.4 L389 1579.3 L387 1579.3 L385 1579.2 L383 1579.1 L381 1579.1 L379 1579 L377 1579 L375 1578.9 L373 1578.9 L371 1578.8 L369 1578.7 L367 1578.7 L365 1578.6 L363 1578.6 L361 1578.5 L359 1578.5 L357 1578.4 L355 1578.3 L353 1578.3 L351 1578.2 L349 1578.2 L347 1578.1 L345 1578.1 L343 1578 L341 1577.9 L339 1577.9 L337 1577.8 L335 1577.8 L333 1577.7Z" fill="#3dd88e"/>
<path d="M330 1575.9 L332 1575.8 L334 1575.7 L336 1575.6 L338 1575.4 L340 1575.1 L342 1574.8 L344 1574.5 L346 1574.1 L348 1573.6 L350 1573 L352 1572.3 L354 1571.6 L356 1570.7 L358 1569.7 L360 1568.6 L362 1567.5 L364 1566.2 L366 1564.8 L368 1563.3 L370 1561.7 L372 1560.1 L374 1558.3 L376 1556.6 L378 1554.8 L380 1553 L382 1551.3 L384 1549.6 L386 1547.9 L388 1546.4 L390 1545 L392 1543.8 L394 1542.7 L396 1541.9 L398 1541.2 L400 1540.8 L402 1540.6 L404 1540.7 L406 1541 L408 1541.5 L410 1542.3 L412 1543.2 L414 1544.4 L416 1545.8 L418 1547.3 L420 1548.9 L422 1550.7 L424 1552.5 L426 1554.4 L428 1556.2 L430 1558.1 L432 1560 L434 1561.8 L436 1563.6 L438 1565.3 L440 1566.9 L442 1568.4 L444 1569.8 L446 1571.1 L448 1572.3 L450 1573.4 L452 1574.4 L454 1575.3 L456 1576.1 L458 1576.8 L460 1577.4 L462 1577.9 L464 1578.4 L466 1578.8 L468 1579.1 L470 1579.5 L472 1579.7 L474 1579.9 L476 1580.1 L476 1581.9 L474 1581.8 L472 1581.8 L470 1581.7 L468 1581.6 L466 1581.6 L464 1581.5 L462 1581.5 L460 1581.4 L458 1581.3 L456 1581.3 L454 1581.2 L452 1581.2 L450 1581.1 L448 1581 L446 1581 L444 1580.9 L442 1580.9 L440 1580.8 L438 1580.7 L436 1580.7 L434 1580.6 L432 1580.6 L430 1580.5 L428 1580.4 L426 1580.4 L424 1580.3 L422 1580.3 L420 1580.2 L418 1580.1 L416 1580.1 L414 1580 L412 1580 L410 1579.9 L408 1579.9 L406 1579.8 L404 1579.7 L402 1579.7 L400 1579.6 L398 1579.6 L396 1579.5 L394 1579.5 L392 1579.4 L390 1579.3 L388 1579.3 L386 1579.2 L384 1579.2 L382 1579.1 L380 1579.1 L378 1579 L376 1578.9 L374 1578.9 L372 1578.8 L370 1578.8 L368 1578.7 L366 1578.7 L364 1578.6 L362 1578.5 L360 1578.5 L358 1578.4 L356 1578.4 L354 1578.3 L352 1578.3 L350 1578.2 L348 1578.1 L346 1578.1 L344 1578 L342 1578 L340 1577.9 L338 1577.9 L336 1577.8 L334 1577.7 L332 1577.7 L330 1577.6Z" fill="#e6fccf"/>
<path d="M526 1581.7 L528 1581.3 L530 1580.7 L532 1579.9 L534 1578.7 L536 1577.2 L538 1575.5 L540 1573.5 L542 1571.6 L544 1570 L546 1568.8 L548 1568.1 L550 1567.5 L552 1566.8 L554 1566 L556 1565.2 L558 1564.3 L560 1563.3 L562 1562.1 L564 1560.9 L566 1559.4 L568 1557.9 L570 1556.1 L572 1554.1 L574 1551.9 L576 1549.4 L578 1546.6 L580 1543.5 L582 1540 L584 1536.2 L586 1532 L588 1527.3 L590 1522.1 L592 1516.5 L594 1510.4 L596 1503.7 L598 1496.6 L600 1488.9 L602 1480.7 L604 1471.9 L606 1462.8 L608 1453.2 L610 1443.2 L612 1433 L614 1422.6 L616 1412.2 L618 1401.8 L620 1391.8 L622 1382.4 L624 1373.6 L626 1365.9 L628 1359.5 L630 1354.6 L632 1351.4 L634 1350 L636 1350.5 L638 1352.3 L640 1355.6 L642 1360.2 L644 1366.1 L646 1373.2 L648 1381.3 L650 1390.3 L652 1400 L654 1410.4 L656 1421.3 L658 1432.4 L660 1443.6 L662 1454.9 L664 1466 L666 1476.9 L668 1487.5 L670 1497.5 L672 1507.1 L674 1516.1 L676 1524.5 L678 1532.2 L680 1539.4 L682 1545.8 L684 1551.6 L686 1556.9 L688 1561.5 L690 1565.6 L692 1569.2 L694 1572.3 L696 1574.9 L698 1577.2 L700 1579.2 L702 1580.9 L704 1582.3 L706 1583.4 L708 1584.4 L710 1585.2 L712 1585.8 L714 1586.4 L716 1586.8 L718 1587.2 L720 1587.4 L722 1587.7 L722 1589.5 L720 1589.5 L718 1589.5 L716 1589.4 L714 1589.4 L712 1589.4 L710 1589.3 L708 1589.3 L706 1589.2 L704 1589.2 L702 1589.2 L700 1589.1 L698 1589.1 L696 1589 L694 1589 L692 1588.9 L690 1588.9 L688 1588.8 L686 1588.8 L684 1588.7 L682 1588.7 L680 1588.6 L678 1588.5 L676 1588.5 L674 1588.4 L672 1588.4 L670 1588.3 L668 1588.2 L666 1588.2 L664 1588.1 L662 1588.1 L660 1588 L658 1587.9 L656 1587.9 L654 1587.8 L652 1587.8 L650 1587.7 L648 1587.6 L646 1587.6 L644 1587.5 L642 1587.5 L640 1587.4 L638 1587.3 L636 1587.3 L634 1587.2 L632 1587.2 L630 1587.1 L628 1587 L626 1587 L624 1586.9 L622 1586.9 L620 1586.8 L618 1586.7 L616 1586.7 L614 1586.6 L612 1586.5 L610 1586.5 L608 1586.4 L606 1586.4 L604 1586.3 L602 1586.2 L600 1586.2 L598 1586.1 L596 1586 L594 1586 L592 1585.9 L590 1585.8 L588 1585.7 L586 1585.7 L584 1585.6 L582 1585.5 L580 1585.4 L578 1585.4 L576 1585.3 L574 1585.2 L572 1585.1 L570 1585.1 L568 1585 L566 1584.9 L564 1584.8 L562 1584.8 L560 1584.7 L558 1584.6 L556 1584.6 L554 1584.5 L552 1584.4 L550 1584.3 L548 1584.3 L546 1584.2 L544 1584.1 L542 1584 L540 1584 L538 1583.9 L536 1583.8 L534 1583.7 L532 1583.7 L530 1583.6 L528 1583.5 L526 1583.4Z" fill="#fd9b9b"/>
<path d="M501 1580.9 L503 1580.8 L505 1580.6 L507 1580.4 L509 1580.1 L511 1579.8 L513 1579.3 L515 1578.8 L517 1578.1 L519 1577.3 L521 1576.4 L523 1575.3 L525 1574.2 L527 1572.8 L529 1571.4 L531 1569.8 L533 1568.1 L535 1566.3 L537 1564.5 L539 1562.7 L541 1560.9 L543 1559.1 L545 1557.5 L547 1556 L549 1554.7 L551 1553.6 L553 1552.8 L555 1552.2 L557 1552 L559 1552.1 L561 1552.3 L563 1552.6 L565 1553 L567 1553.6 L569 1554.2 L571 1555 L573 1555.8 L575 1556.8 L577 1557.8 L579 1558.9 L581 1560 L583 1561.2 L585 1562.4 L587 1563.7 L589 1564.9 L591 1566.2 L593 1567.4 L595 1568.7 L597 1569.9 L599 1571.1 L601 1572.3 L603 1573.4 L605 1574.4 L607 1575.5 L609 1576.4 L611 1577.3 L613 1578.2 L615 1579 L617 1579.8 L619 1580.5 L621 1581.1 L623 1581.7 L625 1582.2 L627 1582.7 L629 1583.2 L631 1583.6 L633 1584 L635 1584.3 L637 1584.6 L639 1584.9 L641 1585.1 L643 1585.4 L645 1585.6 L647 1585.8 L649 1585.9 L649 1587.7 L647 1587.6 L645 1587.5 L643 1587.5 L641 1587.4 L639 1587.4 L637 1587.3 L635 1587.2 L633 1587.2 L631 1587.1 L629 1587.1 L627 1587 L625 1586.9 L623 1586.9 L621 1586.8 L619 1586.8 L617 1586.7 L615 1586.6 L613 1586.6 L611 1586.5 L609 1586.5 L607 1586.4 L605 1586.3 L603 1586.3 L601 1586.2 L599 1586.1 L597 1586.1 L595 1586 L593 1585.9 L591 1585.8 L589 1585.8 L587 1585.7 L585 1585.6 L583 1585.6 L581 1585.5 L579 1585.4 L577 1585.3 L575 1585.3 L573 1585.2 L571 1585.1 L569 1585 L567 1585 L565 1584.9 L563 1584.8 L561 1584.7 L559 1584.7 L557 1584.6 L555 1584.5 L553 1584.4 L551 1584.4 L549 1584.3 L547 1584.2 L545 1584.1 L543 1584.1 L541 1584 L539 1583.9 L537 1583.8 L535 1583.8 L533 1583.7 L531 1583.6 L529 1583.6 L527 1583.5 L525 1583.4 L523 1583.3 L521 1583.3 L519 1583.2 L517 1583.1 L515 1583.1 L513 1583 L511 1582.9 L509 1582.9 L507 1582.8 L505 1582.8 L503 1582.7 L501 1582.6Z" fill="#8e8e8e"/>
<path d="M585 1583.9 L587 1583.8 L589 1583.7 L591 1583.5 L593 1583.3 L595 1583.1 L597 1582.7 L599 1582.3 L601 1581.8 L603 1581.2 L605 1580.5 L607 1579.6 L609 1578.6 L611 1577.4 L613 1576.1 L615 1574.5 L617 1572.7 L619 1570.8 L621 1568.6 L623 1566.1 L625 1563.4 L627 1560.5 L629 1557.4 L631 1554 L633 1550.4 L635 1546.6 L637 1542.7 L639 1538.6 L641 1534.4 L643 1530.2 L645 1525.9 L647 1521.7 L649 1517.6 L651 1513.6 L653 1509.8 L655 1506.3 L657 1503.1 L659 1500.3 L661 1497.8 L663 1495.8 L665 1494.3 L667 1493.3 L669 1492.8 L671 1492.9 L673 1493.5 L675 1494.6 L677 1496.2 L679 1498.3 L681 1500.9 L683 1503.9 L685 1507.2 L687 1510.8 L689 1514.7 L691 1518.8 L693 1523 L695 1527.4 L697 1531.7 L699 1536.1 L701 1540.4 L703 1544.6 L705 1548.6 L707 1552.5 L709 1556.2 L711 1559.7 L713 1562.9 L715 1565.9 L717 1568.7 L719 1571.2 L721 1573.5 L723 1575.6 L725 1577.4 L727 1579.1 L729 1580.5 L731 1581.8 L733 1582.9 L735 1583.9 L737 1584.7 L739 1585.4 L741 1586 L743 1586.5 L745 1587 L747 1587.3 L749 1587.6 L751 1587.9 L753 1588.1 L755 1588.3 L755 1590 L753 1590 L751 1590 L749 1590 L747 1589.9 L745 1589.9 L743 1589.9 L741 1589.8 L739 1589.8 L737 1589.8 L735 1589.7 L733 1589.7 L731 1589.7 L729 1589.6 L727 1589.6 L725 1589.6 L723 1589.5 L721 1589.5 L719 1589.5 L717 1589.4 L715 1589.4 L713 1589.4 L711 1589.3 L709 1589.3 L707 1589.3 L705 1589.2 L703 1589.2 L701 1589.1 L699 1589.1 L697 1589 L695 1589 L693 1588.9 L691 1588.9 L689 1588.8 L687 1588.8 L685 1588.7 L683 1588.7 L681 1588.6 L679 1588.6 L677 1588.5 L675 1588.4 L673 1588.4 L671 1588.3 L669 1588.3 L667 1588.2 L665 1588.1 L663 1588.1 L661 1588 L659 1588 L657 1587.9 L655 1587.8 L653 1587.8 L651 1587.7 L649 1587.7 L647 1587.6 L645 1587.5 L643 1587.5 L641 1587.4 L639 1587.4 L637 1587.3 L635 1587.2 L633 1587.2 L631 1587.1 L629 1587.1 L627 1587 L625 1586.9 L623 1586.9 L621 1586.8 L619 1586.8 L617 1586.7 L615 1586.6 L613 1586.6 L611 1586.5 L609 1586.5 L607 1586.4 L605 1586.3 L603 1586.3 L601 1586.2 L599 1586.1 L597 1586.1 L595 1586 L593 1585.9 L591 1585.8 L589 1585.8 L587 1585.7 L585 1585.6Z" fill="#3abcfd"/>
<path d="M131 1571.6 L136 1571.6 L141 1571.7 L146 1571.7 L151 1571.8 L156 1571.9 L161 1571.9 L166 1572 L171 1572.1 L176 1572.2 L181 1572.2 L186 1572.3 L191 1572.4 L196 1572.5 L201 1572.6 L206 1572.8 L211 1572.9 L216 1573.1 L221 1573.2 L226 1573.4 L231 1573.6 L236 1573.8 L241 1573.9 L246 1574.1 L251 1574.3 L256 1574.4 L261 1574.6 L266 1574.8 L271 1575 L276 1575.1 L281 1575.3 L286 1575.5 L291 1575.7 L296 1575.8 L301 1576 L306 1576.2 L311 1576.3 L316 1576.5 L321 1576.7 L326 1576.8 L331 1577 L336 1577.1 L341 1577.2 L346 1577.4 L351 1577.5 L356 1577.7 L361 1577.8 L366 1578 L371 1578.1 L376 1578.2 L381 1578.4 L386 1578.5 L391 1578.7 L396 1578.8 L401 1579 L406 1579.1 L411 1579.2 L416 1579.4 L421 1579.5 L426 1579.7 L431 1579.8 L436 1580 L441 1580.1 L446 1580.3 L451 1580.4 L456 1580.6 L461 1580.7 L466 1580.9 L471 1581 L476 1581.2 L481 1581.3 L486 1581.5 L491 1581.6 L496 1581.8 L501 1581.9 L506 1582.1 L511 1582.2 L516 1582.4 L521 1582.6 L526 1582.7 L531 1582.9 L536 1583.1 L541 1583.3 L546 1583.5 L551 1583.7 L556 1583.9 L561 1584 L566 1584.2 L571 1584.4 L576 1584.6 L581 1584.8 L586 1585 L591 1585.1 L596 1585.3 L601 1585.5 L606 1585.7 L611 1585.8 L616 1586 L621 1586.1 L626 1586.3 L631 1586.4 L636 1586.6 L641 1586.7 L646 1586.9 L651 1587 L656 1587.2 L661 1587.3 L666 1587.5 L671 1587.6 L676 1587.8 L681 1587.9 L686 1588.1 L691 1588.2 L696 1588.3 L701 1588.4 L706 1588.5 L711 1588.6 L716 1588.7 L721 1588.8 L726 1588.9 L731 1589 L736 1589.1 L741 1589.1 L746 1589.2 L751 1589.3 L756 1589.4 L761 1589.4 L766 1589.5 L771 1589.6 L776 1589.7 L781 1589.7 L786 1589.8 L791 1589.8 L796 1589.9" fill="none" stroke="#959595" stroke-width="3.8"/>
<path d="M131 1570.2 L132 1570.2 L133 1570.2 L134 1570.2 L135 1570.2 L136 1570.2 L137 1570.2 L138 1570.2 L139 1570.2 L140 1570.2 L141 1570.2 L142 1570.2 L143 1570.2 L144 1570.2 L145 1570.2 L146 1570.2 L147 1570.2 L148 1570.2 L149 1570.2 L150 1570.2 L151 1570.2 L152 1570.2 L153 1570.2 L154 1570.2 L155 1570.1 L156 1570.1 L157 1570 L158 1570 L159 1569.9 L160 1569.8 L161 1569.7 L162 1569.6 L163 1569.5 L164 1569.3 L165 1569.1 L166 1568.8 L167 1568.6 L168 1568.2 L169 1567.9 L170 1567.4 L171 1566.9 L172 1566.3 L173 1565.7 L174 1564.9 L175 1564 L176 1563 L177 1561.9 L178 1560.6 L179 1559.1 L180 1557.5 L181 1555.7 L182 1553.6 L183 1551.3 L184 1548.8 L185 1546 L186 1542.9 L187 1539.5 L188 1535.7 L189 1531.6 L190 1527.1 L191 1522.2 L192 1516.9 L193 1511.1 L194 1504.9 L195 1498.2 L196 1491.1 L197 1483.5 L198 1475.3 L199 1466.7 L200 1457.6 L201 1447.9 L202 1437.8 L203 1427.2 L204 1416.2 L205 1404.7 L206 1392.8 L207 1380.5 L208 1367.9 L209 1355 L210 1341.8 L211 1328.4 L212 1314.9 L213 1301.4 L214 1287.8 L215 1274.2 L216 1260.8 L217 1247.6 L218 1234.7 L219 1222.1 L220 1211.2 L221 1198.6 L222 1188.9 L223 1179.9 L224 1170.9 L225 1161.9 L226 1152.9 L227 1143.9 L228 1139.5 L229 1136.2 L230 1132.9 L231 1129.7 L232 1126.4 L233 1123.1 L234 1125.1 L235 1128.4 L236 1131.8 L237 1135.1 L238 1138.4 L239 1141.7 L240 1149.6 L241 1158.7 L242 1167.7 L243 1176.8 L244 1185.8 L245 1194.9 L246 1206.8 L247 1219.4 L248 1230.3 L249 1243.1 L250 1256.3 L251 1269.7 L252 1283.2 L253 1296.8 L254 1310.5 L255 1324 L256 1337.5 L257 1350.8 L258 1363.9 L259 1376.7 L260 1389.1 L261 1401.2 L262 1412.9 L263 1424.2 L264 1435 L265 1445.3 L266 1455.2 L267 1464.6 L268 1473.4 L269 1481.8 L270 1489.7 L271 1497 L272 1503.9 L273 1510.4 L274 1516.3 L275 1521.8 L276 1526.9 L277 1531.6 L278 1535.9 L279 1539.8 L280 1543.4 L281 1546.7 L282 1549.6 L283 1552.3 L284 1554.7 L285 1556.9 L286 1558.8 L287 1560.5 L288 1562.1 L289 1563.4 L290 1564.7 L291 1565.7 L292 1566.7 L293 1567.5 L294 1568.2 L295 1568.9 L296 1569.4 L297 1569.9 L298 1570.3 L299 1570.7 L300 1571 L301 1571.3 L302 1571.5 L303 1571.7 L304 1571.9 L305 1572 L306 1572.1 L307 1572.2 L308 1572.3 L309 1572.4 L310 1572.5 L311 1572.5 L312 1572.5 L313 1572.6 L314 1572.6 L315 1572.6 L316 1572.6 L317 1572.6 L318 1572.6 L319 1572.6 L320 1572.6 L321 1572.6 L322 1572.5 L323 1572.5 L324 1572.5 L325 1572.4 L326 1572.4 L327 1572.3 L328 1572.3 L329 1572.2 L330 1572.1 L331 1572 L332 1571.9 L333 1571.8 L334 1571.7 L335 1571.6 L336 1571.5 L337 1571.3 L338 1571.2 L339 1571 L340 1570.8 L341 1570.6 L342 1570.4 L343 1570.1 L344 1569.9 L345 1569.6 L346 1569.3 L347 1569 L348 1568.6 L349 1568.2 L350 1567.8 L351 1567.4 L352 1567 L353 1566.5 L354 1565.9 L355 1565.4 L356 1564.8 L357 1564.2 L358 1563.5 L359 1562.8 L360 1562.1 L361 1561.3 L362 1560.5 L363 1559.6 L364 1558.7 L365 1557.7 L366 1556.7 L367 1555.7 L368 1554.6 L369 1553.5 L370 1552.3 L371 1551.1 L372 1549.9 L373 1548.6 L374 1547.2 L375 1545.8 L376 1544.4 L377 1542.9 L378 1541.4 L379 1539.9 L380 1538.3 L381 1536.6 L382 1535 L383 1533.2 L384 1531.5 L385 1529.7 L386 1527.9 L387 1526 L388 1524.1 L389 1522.2 L390 1520.2 L391 1518.2 L392 1516.1 L393 1514.1 L394 1511.9 L395 1509.8 L396 1507.6 L397 1505.4 L398 1503.1 L399 1500.8 L400 1498.5 L401 1496.1 L402 1493.6 L403 1491.2 L404 1488.6 L405 1486 L406 1483.4 L407 1480.7 L408 1478 L409 1475.2 L410 1472.4 L411 1469.4 L412 1466.5 L413 1463.4 L414 1460.3 L415 1457.1 L416 1453.9 L417 1450.6 L418 1447.2 L419 1443.7 L420 1440.2 L421 1436.6 L422 1432.9 L423 1429.2 L424 1425.4 L425 1421.5 L426 1417.6 L427 1413.6 L428 1409.5 L429 1405.4 L430 1401.3 L431 1397.1 L432 1392.9 L433 1388.6 L434 1384.4 L435 1380.1 L436 1375.8 L437 1371.5 L438 1367.2 L439 1363 L440 1358.8 L441 1354.6 L442 1350.5 L443 1346.4 L444 1342.4 L445 1338.5 L446 1334.7 L447 1331 L448 1327.5 L449 1324.1 L450 1320.8 L451 1317.7 L452 1314.7 L453 1311.9 L454 1309.4 L455 1307 L456 1304.8 L457 1302.9 L458 1301.2 L459 1299.8 L460 1298.6 L461 1297.6 L462 1296.9 L463 1296.5 L464 1296.3 L465 1296.4 L466 1296.8 L467 1297.4 L468 1298.3 L469 1299.5 L470 1300.9 L471 1302.6 L472 1304.5 L473 1306.7 L474 1309.1 L475 1311.7 L476 1314.5 L477 1317.6 L478 1320.9 L479 1324.4 L480 1328 L481 1331.9 L482 1335.9 L483 1340 L484 1344.3 L485 1348.8 L486 1353.3 L487 1358 L488 1362.8 L489 1367.6 L490 1372.5 L491 1377.5 L492 1382.5 L493 1387.6 L494 1392.7 L495 1397.8 L496 1402.9 L497 1408 L498 1413.1 L499 1418.2 L500 1423.2 L501 1428.1 L502 1433 L503 1437.9 L504 1442.7 L505 1447.3 L506 1451.9 L507 1456.4 L508 1460.8 L509 1465.1 L510 1469.2 L511 1473.2 L512 1477.1 L513 1480.9 L514 1484.5 L515 1487.9 L516 1491.2 L517 1494.4 L518 1497.4 L519 1500.2 L520 1502.9 L521 1505.4 L522 1507.8 L523 1510 L524 1512 L525 1513.9 L526 1515.6 L527 1517.2 L528 1518.5 L529 1519.8 L530 1520.9 L531 1521.8 L532 1522.6 L533 1523.3 L534 1523.8 L535 1524.2 L536 1524.5 L537 1524.7 L538 1524.8 L539 1524.8 L540 1524.6 L541 1524.4 L542 1524.2 L543 1523.9 L544 1523.5 L545 1523 L546 1522.6 L547 1522.1 L548 1521.5 L549 1521 L550 1520.4 L551 1519.9 L552 1519.3 L553 1518.8 L554 1518.2 L555 1517.7 L556 1517.3 L557 1516.8 L558 1516.4 L559 1515.9 L560 1515.5 L561 1515.1 L562 1514.6 L563 1514.1 L564 1513.6 L565 1513.1 L566 1512.6 L567 1512 L568 1511.5 L569 1510.9 L570 1510.3 L571 1509.7 L572 1509 L573 1508.3 L574 1507.6 L575 1506.9 L576 1506.1 L577 1505.2 L578 1504.4 L579 1503.4 L580 1502.4 L581 1501.4 L582 1500.3 L583 1499.1 L584 1497.9 L585 1496.6 L586 1495.1 L587 1493.6 L588 1492 L589 1490.3 L590 1488.5 L591 1486.6 L592 1484.5 L593 1482.3 L594 1480 L595 1477.6 L596 1475 L597 1472.2 L598 1469.3 L599 1466.2 L600 1463 L601 1459.6 L602 1456 L603 1452.3 L604 1448.4 L605 1444.3 L606 1440.1 L607 1435.7 L608 1431.2 L609 1426.5 L610 1421.6 L611 1416.7 L612 1411.6 L613 1406.3 L614 1401 L615 1395.6 L616 1390.1 L617 1384.6 L618 1379 L619 1373.5 L620 1367.9 L621 1362.4 L622 1357 L623 1351.7 L624 1346.5 L625 1341.5 L626 1336.7 L627 1332.2 L628 1327.9 L629 1323.9 L630 1320.3 L631 1316.9 L632 1314 L633 1311.5 L634 1309.4 L635 1307.6 L636 1306.2 L637 1305.1 L638 1304.4 L639 1303.9 L640 1303.7 L641 1303.9 L642 1304.3 L643 1305.1 L644 1306.1 L645 1307.5 L646 1309.1 L647 1310.9 L648 1313.1 L649 1315.5 L650 1318.1 L651 1321 L652 1324.1 L653 1327.3 L654 1330.8 L655 1334.5 L656 1338.3 L657 1342.3 L658 1346.4 L659 1350.6 L660 1355 L661 1359.5 L662 1364 L663 1368.7 L664 1373.4 L665 1378.2 L666 1383 L667 1387.9 L668 1392.8 L669 1397.7 L670 1402.6 L671 1407.6 L672 1412.5 L673 1417.4 L674 1422.3 L675 1427.2 L676 1432 L677 1436.8 L678 1441.6 L679 1446.3 L680 1451 L681 1455.6 L682 1460.2 L683 1464.7 L684 1469.1 L685 1473.5 L686 1477.8 L687 1482 L688 1486.1 L689 1490.2 L690 1494.2 L691 1498.1 L692 1501.9 L693 1505.6 L694 1509.2 L695 1512.8 L696 1516.2 L697 1519.6 L698 1522.9 L699 1526 L700 1529.1 L701 1532.1 L702 1535 L703 1537.8 L704 1540.4 L705 1543 L706 1545.5 L707 1547.9 L708 1550.3 L709 1552.5 L710 1554.6 L711 1556.6 L712 1558.6 L713 1560.5 L714 1562.2 L715 1563.9 L716 1565.5 L717 1567.1 L718 1568.5 L719 1569.9 L720 1571.2 L721 1572.4 L722 1573.6 L723 1574.7 L724 1575.7 L725 1576.7 L726 1577.6 L727 1578.4 L728 1579.2 L729 1580 L730 1580.6 L731 1581.3 L732 1581.9 L733 1582.5 L734 1583 L735 1583.5 L736 1583.9 L737 1584.3 L738 1584.7 L739 1585.1 L740 1585.4 L741 1585.7 L742 1586 L743 1586.2 L744 1586.4 L745 1586.7 L746 1586.9 L747 1587 L748 1587.2 L749 1587.3 L750 1587.5 L751 1587.6 L752 1587.7 L753 1587.8 L754 1587.9 L755 1588 L756 1588.1 L757 1588.2 L758 1588.2 L759 1588.3 L760 1588.4 L761 1588.4 L762 1588.5 L763 1588.5 L764 1588.5 L765 1588.6 L766 1588.6 L767 1588.7 L768 1588.7 L769 1588.7 L770 1588.7 L771 1588.8 L772 1588.8 L773 1588.8 L774 1588.8 L775 1588.9 L776 1588.9 L777 1588.9 L778 1588.9 L779 1588.9 L780 1589 L781 1589 L782 1589 L783 1589 L784 1589 L785 1589 L786 1589.1 L787 1589.1 L788 1589.1 L789 1589.1 L790 1589.1 L791 1589.1 L792 1589.1 L793 1589.1 L794 1589.2 L795 1589.2 L796 1589.2 L797 1589.2" fill="none" stroke="#000" stroke-width="6" stroke-linejoin="round" stroke-linecap="round"/>
<g fill="#858585"><circle cx="910" cy="738.9" r="5"/><circle cx="914" cy="736.4" r="5"/><circle cx="918" cy="737.8" r="5"/><circle cx="922" cy="734.9" r="5"/><circle cx="926" cy="738.1" r="5"/><circle cx="930" cy="739" r="5"/><circle cx="934" cy="739.5" r="5"/><circle cx="938" cy="743.9" r="5"/><circle cx="942" cy="742.6" r="5"/><circle cx="946" cy="737.8" r="5"/><circle cx="950" cy="741.4" r="5"/><circle cx="954" cy="741.4" r="5"/><circle cx="958" cy="739.9" r="5"/><circle cx="962" cy="738.2" r="5"/><circle cx="966" cy="732.4" r="5"/><circle cx="970" cy="730.3" r="5"/><circle cx="973.3" cy="730.7" r="5"/><circle cx="974.1" cy="729.4" r="5"/><circle cx="980.5" cy="718.2" r="5"/><circle cx="980.2" cy="706.8" r="5"/><circle cx="986.4" cy="695.2" r="5"/><circle cx="986" cy="686.4" r="5"/><circle cx="995.7" cy="673.4" r="5"/><circle cx="993.6" cy="668.4" r="5"/><circle cx="1006" cy="663.7" r="5"/><circle cx="1010" cy="662.3" r="5"/><circle cx="1019.4" cy="668.7" r="5"/><circle cx="1019.1" cy="674.3" r="5"/><circle cx="1024" cy="685.6" r="5"/><circle cx="1026.1" cy="695.7" r="5"/><circle cx="1031.5" cy="695.5" r="5"/><circle cx="1035.6" cy="709.2" r="5"/><circle cx="1038" cy="716.5" r="5"/><circle cx="1042" cy="714.2" r="5"/><circle cx="1046" cy="718" r="5"/><circle cx="1048.3" cy="710.9" r="5"/><circle cx="1050.8" cy="697.9" r="5"/><circle cx="1056.4" cy="695.2" r="5"/><circle cx="1060.7" cy="688.2" r="5"/><circle cx="1063.6" cy="671.2" r="5"/><circle cx="1068.8" cy="675.1" r="5"/><circle cx="1074" cy="658.1" r="5"/><circle cx="1078" cy="659.9" r="5"/><circle cx="1082" cy="656.7" r="5"/><circle cx="1086.2" cy="663.1" r="5"/><circle cx="1091.7" cy="676" r="5"/><circle cx="1097" cy="684" r="5"/><circle cx="1100.9" cy="696.1" r="5"/><circle cx="1103.8" cy="705.4" r="5"/><circle cx="1106.2" cy="716.8" r="5"/><circle cx="1113.2" cy="724.7" r="5"/><circle cx="1114" cy="726" r="5"/><circle cx="1118" cy="724.5" r="5"/><circle cx="1122" cy="728.9" r="5"/><circle cx="1126" cy="727.7" r="5"/><circle cx="1130" cy="725.5" r="5"/><circle cx="1134" cy="715.7" r="5"/><circle cx="1134.9" cy="708.3" r="5"/><circle cx="1139.6" cy="700.8" r="5"/><circle cx="1144.5" cy="701.7" r="5"/><circle cx="1148.8" cy="692.5" r="5"/><circle cx="1153.4" cy="683.5" r="5"/><circle cx="1156.6" cy="672.8" r="5"/><circle cx="1160.3" cy="660.6" r="5"/><circle cx="1163.5" cy="639.5" r="5"/><circle cx="1167.3" cy="625.4" r="5"/><circle cx="1171.2" cy="618.9" r="5"/><circle cx="1177.6" cy="595.2" r="5"/><circle cx="1178.1" cy="584.3" r="5"/><circle cx="1185.2" cy="573.3" r="5"/><circle cx="1186.7" cy="561.6" r="5"/><circle cx="1191.9" cy="560.7" r="5"/><circle cx="1193.5" cy="542" r="5"/><circle cx="1198.2" cy="539.7" r="5"/><circle cx="1204.4" cy="535.4" r="5"/><circle cx="1207.5" cy="520.9" r="5"/><circle cx="1213.2" cy="520.8" r="5"/><circle cx="1216.3" cy="506.4" r="5"/><circle cx="1218.8" cy="484.4" r="5"/><circle cx="1222.7" cy="460.7" r="5"/><circle cx="1223.4" cy="455.2" r="5"/><circle cx="1233.6" cy="418.9" r="5"/><circle cx="1236.9" cy="386.8" r="5"/><circle cx="1236.7" cy="359.8" r="5"/><circle cx="1244.9" cy="327.1" r="5"/><circle cx="1249.9" cy="291.4" r="5"/><circle cx="1251.7" cy="259.4" r="5"/><circle cx="1255.8" cy="232" r="5"/><circle cx="1258.5" cy="217.2" r="5"/><circle cx="1265" cy="200.3" r="5"/><circle cx="1270" cy="198.5" r="5"/><circle cx="1275.8" cy="210.4" r="5"/><circle cx="1278.2" cy="221.1" r="5"/><circle cx="1283.9" cy="240.6" r="5"/><circle cx="1289.1" cy="274.7" r="5"/><circle cx="1291.1" cy="308.3" r="5"/><circle cx="1295.5" cy="347.8" r="5"/><circle cx="1299.6" cy="388" r="5"/><circle cx="1307.1" cy="421.7" r="5"/><circle cx="1306.5" cy="467.9" r="5"/><circle cx="1310.1" cy="499.1" r="5"/><circle cx="1314.1" cy="526.5" r="5"/><circle cx="1323.4" cy="556.5" r="5"/><circle cx="1324.8" cy="574.5" r="5"/><circle cx="1330.8" cy="589.7" r="5"/><circle cx="1331.1" cy="604.5" r="5"/><circle cx="1334" cy="606.7" r="5"/><circle cx="1338" cy="611" r="5"/><circle cx="1342" cy="609.8" r="5"/><circle cx="1346" cy="612.6" r="5"/><circle cx="1350" cy="605" r="5"/><circle cx="1354" cy="603.5" r="5"/><circle cx="1358" cy="605.2" r="5"/><circle cx="1362" cy="604.8" r="5"/><circle cx="1366.6" cy="609.3" r="5"/><circle cx="1371.7" cy="622.2" r="5"/><circle cx="1376" cy="627.1" r="5"/><circle cx="1378.4" cy="643" r="5"/><circle cx="1386" cy="653.6" r="5"/><circle cx="1387.1" cy="668.6" r="5"/><circle cx="1394.7" cy="686" r="5"/><circle cx="1396.8" cy="689.7" r="5"/><circle cx="1400.3" cy="712.5" r="5"/><circle cx="1404.9" cy="717.2" r="5"/><circle cx="1407.8" cy="732" r="5"/><circle cx="1410.8" cy="745" r="5"/><circle cx="1417" cy="745.5" r="5"/><circle cx="1419.4" cy="752" r="5"/><circle cx="1422" cy="760.5" r="5"/><circle cx="1426" cy="757.8" r="5"/><circle cx="1430" cy="762.1" r="5"/><circle cx="1434" cy="768.5" r="5"/><circle cx="1438" cy="763.9" r="5"/><circle cx="1442" cy="764.6" r="5"/><circle cx="1446" cy="763.6" r="5"/><circle cx="1450" cy="766.7" r="5"/><circle cx="1454" cy="765.4" r="5"/><circle cx="1458" cy="767.6" r="5"/><circle cx="1462" cy="767.2" r="5"/><circle cx="1466" cy="771.2" r="5"/><circle cx="1470" cy="771.7" r="5"/><circle cx="1474" cy="771.7" r="5"/><circle cx="1478" cy="774.6" r="5"/><circle cx="1482" cy="766.5" r="5"/><circle cx="1486" cy="769.3" r="5"/><circle cx="1490" cy="770.2" r="5"/><circle cx="1494" cy="769" r="5"/><circle cx="1498" cy="765.8" r="5"/><circle cx="1502" cy="769" r="5"/><circle cx="1506" cy="772" r="5"/><circle cx="1510" cy="774" r="5"/><circle cx="1514" cy="768.8" r="5"/></g>
<path d="M1165 746.8 L1167 746.7 L1169 746.6 L1171 746.4 L1173 746.1 L1175 745.8 L1177 745.4 L1179 744.8 L1181 744.2 L1183 743.3 L1185 742.2 L1187 740.9 L1189 739.3 L1191 737.4 L1193 735.2 L1195 732.5 L1197 729.3 L1199 725.6 L1201 721.2 L1203 716.2 L1205 710.5 L1207 704 L1209 696.6 L1211 688.3 L1213 679 L1215 668.7 L1217 657.3 L1219 644.8 L1221 631.3 L1223 616.6 L1225 600.9 L1227 584.2 L1229 566.6 L1231 548.1 L1233 528.8 L1235 508.9 L1237 488.7 L1239 468.1 L1241 447.5 L1243 427 L1245 407 L1247 387.5 L1249 369 L1251 351.5 L1253 335.4 L1255 320.8 L1257 308 L1259 297.2 L1261 288.5 L1263 282.1 L1265 278 L1267 276.4 L1269 277.2 L1271 280.5 L1273 286.2 L1275 294.2 L1277 304.4 L1279 316.7 L1281 330.8 L1283 346.7 L1285 364 L1287 382.5 L1289 402.1 L1291 422.3 L1293 443.1 L1295 464.2 L1297 485.4 L1299 506.3 L1301 527 L1303 547.1 L1305 566.5 L1307 585.2 L1309 602.9 L1311 619.6 L1313 635.3 L1315 650 L1317 663.5 L1319 675.9 L1321 687.2 L1323 697.5 L1325 706.8 L1327 715.1 L1329 722.5 L1331 729 L1333 734.8 L1335 739.8 L1337 744.2 L1339 748 L1341 751.3 L1343 754.1 L1345 756.5 L1347 758.5 L1349 760.2 L1351 761.6 L1353 762.9 L1355 763.9 L1357 764.7 L1359 765.4 L1361 766 L1363 766.5 L1365 766.9 L1367 767.2 L1369 767.5 L1369 769.4 L1367 769.3 L1365 769.2 L1363 769.1 L1361 769.1 L1359 769 L1357 768.9 L1355 768.8 L1353 768.7 L1351 768.6 L1349 768.5 L1347 768.3 L1345 768.2 L1343 768.1 L1341 768 L1339 767.9 L1337 767.8 L1335 767.6 L1333 767.5 L1331 767.4 L1329 767.3 L1327 767.1 L1325 767 L1323 766.9 L1321 766.7 L1319 766.6 L1317 766.5 L1315 766.3 L1313 766.2 L1311 766 L1309 765.9 L1307 765.7 L1305 765.5 L1303 765.3 L1301 765.1 L1299 764.9 L1297 764.7 L1295 764.5 L1293 764.2 L1291 764 L1289 763.7 L1287 763.4 L1285 763.1 L1283 762.8 L1281 762.5 L1279 762.2 L1277 761.8 L1275 761.5 L1273 761.2 L1271 760.8 L1269 760.5 L1267 760.2 L1265 759.8 L1263 759.5 L1261 759.2 L1259 758.8 L1257 758.5 L1255 758.2 L1253 757.9 L1251 757.6 L1249 757.3 L1247 757 L1245 756.7 L1243 756.4 L1241 756.1 L1239 755.8 L1237 755.5 L1235 755.2 L1233 754.9 L1231 754.7 L1229 754.4 L1227 754.1 L1225 753.9 L1223 753.6 L1221 753.3 L1219 753.1 L1217 752.8 L1215 752.6 L1213 752.3 L1211 752.1 L1209 751.8 L1207 751.6 L1205 751.4 L1203 751.2 L1201 751 L1199 750.8 L1197 750.6 L1195 750.4 L1193 750.2 L1191 750.1 L1189 749.9 L1187 749.8 L1185 749.6 L1183 749.5 L1181 749.4 L1179 749.3 L1177 749.2 L1175 749 L1173 748.9 L1171 748.8 L1169 748.7 L1167 748.6 L1165 748.5Z" fill="#3c3cfd"/>
<path d="M1284 761.2 L1286 761.3 L1288 761.4 L1290 761.4 L1292 761.3 L1294 761.1 L1296 760.8 L1298 760.3 L1300 759.6 L1302 758.8 L1304 757.7 L1306 756.4 L1308 754.8 L1310 752.9 L1312 750.6 L1314 747.9 L1316 744.8 L1318 741.3 L1320 737.4 L1322 732.9 L1324 728 L1326 722.6 L1328 716.8 L1330 710.6 L1332 703.9 L1334 697 L1336 689.9 L1338 682.5 L1340 675.2 L1342 667.8 L1344 660.7 L1346 653.8 L1348 647.3 L1350 641.4 L1352 636.1 L1354 631.5 L1356 627.8 L1358 625.1 L1360 623.3 L1362 622.5 L1364 622.8 L1366 623.9 L1368 625.8 L1370 628.6 L1372 632.1 L1374 636.3 L1376 641.1 L1378 646.5 L1380 652.3 L1382 658.5 L1384 665 L1386 671.7 L1388 678.5 L1390 685.4 L1392 692.2 L1394 698.8 L1396 705.3 L1398 711.5 L1400 717.4 L1402 723 L1404 728.3 L1406 733.2 L1408 737.7 L1410 741.8 L1412 745.5 L1414 748.9 L1416 751.9 L1418 754.5 L1420 756.9 L1422 758.9 L1424 760.7 L1426 762.2 L1428 763.6 L1430 764.7 L1432 765.6 L1434 766.4 L1436 767.1 L1438 767.7 L1440 768.1 L1442 768.5 L1444 768.8 L1446 769.1 L1448 769.3 L1450 769.4 L1450 771.1 L1448 771.1 L1446 771.1 L1444 771.1 L1442 771.1 L1440 771.1 L1438 771 L1436 771 L1434 771 L1432 771 L1430 770.9 L1428 770.9 L1426 770.9 L1424 770.9 L1422 770.8 L1420 770.8 L1418 770.7 L1416 770.7 L1414 770.7 L1412 770.6 L1410 770.6 L1408 770.5 L1406 770.5 L1404 770.4 L1402 770.4 L1400 770.3 L1398 770.3 L1396 770.2 L1394 770.2 L1392 770.1 L1390 770 L1388 770 L1386 769.9 L1384 769.9 L1382 769.8 L1380 769.8 L1378 769.7 L1376 769.6 L1374 769.6 L1372 769.5 L1370 769.4 L1368 769.3 L1366 769.3 L1364 769.2 L1362 769.1 L1360 769 L1358 768.9 L1356 768.8 L1354 768.7 L1352 768.6 L1350 768.5 L1348 768.4 L1346 768.3 L1344 768.2 L1342 768.1 L1340 767.9 L1338 767.8 L1336 767.7 L1334 767.6 L1332 767.4 L1330 767.3 L1328 767.2 L1326 767.1 L1324 766.9 L1322 766.8 L1320 766.7 L1318 766.5 L1316 766.4 L1314 766.3 L1312 766.1 L1310 765.9 L1308 765.8 L1306 765.6 L1304 765.4 L1302 765.2 L1300 765 L1298 764.8 L1296 764.6 L1294 764.3 L1292 764.1 L1290 763.8 L1288 763.5 L1286 763.2 L1284 762.9Z" fill="#fcba3e"/>
<path d="M1191 748.4 L1193 748.4 L1195 748.4 L1197 748.4 L1199 748.4 L1201 748.4 L1203 748.3 L1205 748.2 L1207 748 L1209 747.8 L1211 747.6 L1213 747.2 L1215 746.8 L1217 746.3 L1219 745.7 L1221 745 L1223 744.1 L1225 743.1 L1227 742 L1229 740.7 L1231 739.3 L1233 737.7 L1235 735.9 L1237 734 L1239 731.8 L1241 729.5 L1243 727 L1245 724.3 L1247 721.4 L1249 718.4 L1251 715.2 L1253 711.8 L1255 708.3 L1257 704.7 L1259 701 L1261 697.2 L1263 693.4 L1265 689.6 L1267 685.8 L1269 682.1 L1271 678.5 L1273 675 L1275 671.6 L1277 668.5 L1279 665.5 L1281 662.9 L1283 660.5 L1285 658.5 L1287 656.8 L1289 655.5 L1291 654.6 L1293 654.1 L1295 653.9 L1297 654.2 L1299 654.9 L1301 656 L1303 657.4 L1305 659.2 L1307 661.4 L1309 663.9 L1311 666.6 L1313 669.7 L1315 673 L1317 676.5 L1319 680.2 L1321 684 L1323 688 L1325 692.1 L1327 696.2 L1329 700.3 L1331 704.5 L1333 708.6 L1335 712.6 L1337 716.6 L1339 720.4 L1341 724.2 L1343 727.8 L1345 731.2 L1347 734.5 L1349 737.6 L1351 740.5 L1353 743.3 L1355 745.8 L1357 748.2 L1359 750.4 L1361 752.4 L1363 754.3 L1365 756 L1367 757.5 L1369 758.9 L1371 760.2 L1373 761.3 L1375 762.3 L1377 763.2 L1379 764 L1381 764.7 L1383 765.3 L1385 765.9 L1387 766.4 L1389 766.8 L1391 767.2 L1393 767.5 L1395 767.8 L1397 768.1 L1399 768.3 L1401 768.5 L1403 768.6 L1403 770.4 L1401 770.4 L1399 770.3 L1397 770.2 L1395 770.2 L1393 770.1 L1391 770.1 L1389 770 L1387 770 L1385 769.9 L1383 769.8 L1381 769.8 L1379 769.7 L1377 769.7 L1375 769.6 L1373 769.5 L1371 769.5 L1369 769.4 L1367 769.3 L1365 769.2 L1363 769.1 L1361 769.1 L1359 769 L1357 768.9 L1355 768.8 L1353 768.7 L1351 768.6 L1349 768.5 L1347 768.3 L1345 768.2 L1343 768.1 L1341 768 L1339 767.9 L1337 767.8 L1335 767.6 L1333 767.5 L1331 767.4 L1329 767.3 L1327 767.1 L1325 767 L1323 766.9 L1321 766.7 L1319 766.6 L1317 766.5 L1315 766.3 L1313 766.2 L1311 766 L1309 765.9 L1307 765.7 L1305 765.5 L1303 765.3 L1301 765.1 L1299 764.9 L1297 764.7 L1295 764.5 L1293 764.2 L1291 764 L1289 763.7 L1287 763.4 L1285 763.1 L1283 762.8 L1281 762.5 L1279 762.2 L1277 761.8 L1275 761.5 L1273 761.2 L1271 760.8 L1269 760.5 L1267 760.2 L1265 759.8 L1263 759.5 L1261 759.2 L1259 758.8 L1257 758.5 L1255 758.2 L1253 757.9 L1251 757.6 L1249 757.3 L1247 757 L1245 756.7 L1243 756.4 L1241 756.1 L1239 755.8 L1237 755.5 L1235 755.2 L1233 754.9 L1231 754.7 L1229 754.4 L1227 754.1 L1225 753.9 L1223 753.6 L1221 753.3 L1219 753.1 L1217 752.8 L1215 752.6 L1213 752.3 L1211 752.1 L1209 751.8 L1207 751.6 L1205 751.4 L1203 751.2 L1201 751 L1199 750.8 L1197 750.6 L1195 750.4 L1193 750.2 L1191 750.1Z" fill="#3cfcfc"/>
<path d="M1097 743.5 L1099 743.4 L1101 743.3 L1103 743.2 L1105 743.1 L1107 742.9 L1109 742.6 L1111 742.2 L1113 741.8 L1115 741.3 L1117 740.7 L1119 739.9 L1121 739.1 L1123 738 L1125 736.8 L1127 735.3 L1129 733.7 L1131 731.8 L1133 729.7 L1135 727.2 L1137 724.5 L1139 721.4 L1141 718.1 L1143 714.3 L1145 710.2 L1147 705.7 L1149 700.9 L1151 695.7 L1153 690.1 L1155 684.2 L1157 678 L1159 671.5 L1161 664.7 L1163 657.7 L1165 650.6 L1167 643.3 L1169 636 L1171 628.8 L1173 621.6 L1175 614.6 L1177 607.8 L1179 601.3 L1181 595.3 L1183 589.7 L1185 584.7 L1187 580.3 L1189 576.6 L1191 573.6 L1193 571.3 L1195 569.9 L1197 569.3 L1199 569.5 L1201 570.6 L1203 572.5 L1205 575.2 L1207 578.6 L1209 582.8 L1211 587.6 L1213 593.1 L1215 599.1 L1217 605.5 L1219 612.4 L1221 619.5 L1223 626.9 L1225 634.5 L1227 642.2 L1229 649.8 L1231 657.5 L1233 665 L1235 672.3 L1237 679.5 L1239 686.3 L1241 692.9 L1243 699.2 L1245 705.1 L1247 710.7 L1249 715.9 L1251 720.7 L1253 725.2 L1255 729.3 L1257 733.1 L1259 736.6 L1261 739.7 L1263 742.5 L1265 745.1 L1267 747.4 L1269 749.4 L1271 751.3 L1273 752.9 L1275 754.4 L1277 755.7 L1279 756.8 L1281 757.9 L1283 758.8 L1285 759.6 L1287 760.3 L1289 760.9 L1291 761.5 L1293 762 L1295 762.5 L1297 762.9 L1299 763.2 L1299 764.9 L1297 764.7 L1295 764.5 L1293 764.2 L1291 764 L1289 763.7 L1287 763.4 L1285 763.1 L1283 762.8 L1281 762.5 L1279 762.2 L1277 761.8 L1275 761.5 L1273 761.2 L1271 760.8 L1269 760.5 L1267 760.2 L1265 759.8 L1263 759.5 L1261 759.2 L1259 758.8 L1257 758.5 L1255 758.2 L1253 757.9 L1251 757.6 L1249 757.3 L1247 757 L1245 756.7 L1243 756.4 L1241 756.1 L1239 755.8 L1237 755.5 L1235 755.2 L1233 754.9 L1231 754.7 L1229 754.4 L1227 754.1 L1225 753.9 L1223 753.6 L1221 753.3 L1219 753.1 L1217 752.8 L1215 752.6 L1213 752.3 L1211 752.1 L1209 751.8 L1207 751.6 L1205 751.4 L1203 751.2 L1201 751 L1199 750.8 L1197 750.6 L1195 750.4 L1193 750.2 L1191 750.1 L1189 749.9 L1187 749.8 L1185 749.6 L1183 749.5 L1181 749.4 L1179 749.3 L1177 749.2 L1175 749 L1173 748.9 L1171 748.8 L1169 748.7 L1167 748.6 L1165 748.5 L1163 748.4 L1161 748.3 L1159 748.2 L1157 748.1 L1155 748 L1153 747.9 L1151 747.8 L1149 747.7 L1147 747.6 L1145 747.5 L1143 747.4 L1141 747.3 L1139 747.2 L1137 747.1 L1135 747 L1133 746.9 L1131 746.8 L1129 746.7 L1127 746.6 L1125 746.5 L1123 746.4 L1121 746.3 L1119 746.2 L1117 746.1 L1115 746 L1113 745.9 L1111 745.8 L1109 745.7 L1107 745.6 L1105 745.5 L1103 745.4 L1101 745.4 L1099 745.3 L1097 745.2Z" fill="#9c9cfd"/>
<path d="M1018 741 L1020 740.8 L1022 740.6 L1024 740.3 L1026 739.8 L1028 739.3 L1030 738.5 L1032 737.6 L1034 736.4 L1036 734.9 L1038 733.2 L1040 731.1 L1042 728.6 L1044 725.7 L1046 722.4 L1048 718.8 L1050 714.7 L1052 710.3 L1054 705.5 L1056 700.6 L1058 695.4 L1060 690.2 L1062 685.1 L1064 680.2 L1066 675.5 L1068 671.3 L1070 667.7 L1072 664.8 L1074 662.7 L1076 661.4 L1078 661 L1080 661.5 L1082 662.9 L1084 665.2 L1086 668.2 L1088 672 L1090 676.3 L1092 681 L1094 686.1 L1096 691.4 L1098 696.7 L1100 702 L1102 707.1 L1104 712 L1106 716.6 L1108 720.8 L1110 724.6 L1112 728 L1114 731.1 L1116 733.7 L1118 736 L1120 737.9 L1122 739.5 L1124 740.8 L1126 741.9 L1128 742.8 L1130 743.6 L1132 744.2 L1134 744.7 L1136 745.1 L1138 745.4 L1138 747.1 L1136 747 L1134 746.9 L1132 746.8 L1130 746.7 L1128 746.6 L1126 746.5 L1124 746.4 L1122 746.3 L1120 746.2 L1118 746.1 L1116 746 L1114 745.9 L1112 745.8 L1110 745.8 L1108 745.7 L1106 745.6 L1104 745.5 L1102 745.4 L1100 745.3 L1098 745.2 L1096 745.2 L1094 745.1 L1092 745 L1090 744.9 L1088 744.9 L1086 744.8 L1084 744.7 L1082 744.7 L1080 744.6 L1078 744.5 L1076 744.5 L1074 744.4 L1072 744.4 L1070 744.3 L1068 744.2 L1066 744.2 L1064 744.1 L1062 744.1 L1060 744 L1058 743.9 L1056 743.9 L1054 743.8 L1052 743.8 L1050 743.7 L1048 743.6 L1046 743.6 L1044 743.5 L1042 743.5 L1040 743.4 L1038 743.3 L1036 743.3 L1034 743.2 L1032 743.2 L1030 743.1 L1028 743 L1026 743 L1024 742.9 L1022 742.9 L1020 742.8 L1018 742.7Z" fill="#9de0fc"/>
<path d="M954 739.5 L956 739.3 L958 739 L960 738.6 L962 738 L964 737.3 L966 736.4 L968 735.2 L970 733.7 L972 731.9 L974 729.7 L976 727 L978 724 L980 720.5 L982 716.5 L984 712.1 L986 707.4 L988 702.4 L990 697.2 L992 691.8 L994 686.6 L996 681.6 L998 676.9 L1000 672.8 L1002 669.3 L1004 666.6 L1006 664.8 L1008 664 L1010 664.2 L1012 665.5 L1014 667.6 L1016 670.6 L1018 674.4 L1020 678.9 L1022 683.8 L1024 689 L1026 694.4 L1028 699.8 L1030 705.1 L1032 710.1 L1034 714.8 L1036 719.2 L1038 723.1 L1040 726.6 L1042 729.6 L1044 732.2 L1046 734.4 L1048 736.2 L1050 737.7 L1052 738.9 L1054 739.9 L1056 740.7 L1058 741.3 L1060 741.7 L1062 742.1 L1064 742.4 L1064 744.1 L1062 744.1 L1060 744 L1058 743.9 L1056 743.9 L1054 743.8 L1052 743.8 L1050 743.7 L1048 743.6 L1046 743.6 L1044 743.5 L1042 743.5 L1040 743.4 L1038 743.3 L1036 743.3 L1034 743.2 L1032 743.2 L1030 743.1 L1028 743 L1026 743 L1024 742.9 L1022 742.9 L1020 742.8 L1018 742.7 L1016 742.7 L1014 742.6 L1012 742.6 L1010 742.5 L1008 742.5 L1006 742.4 L1004 742.4 L1002 742.3 L1000 742.3 L998 742.2 L996 742.2 L994 742.1 L992 742.1 L990 742 L988 742 L986 741.9 L984 741.9 L982 741.8 L980 741.8 L978 741.8 L976 741.7 L974 741.7 L972 741.6 L970 741.6 L968 741.6 L966 741.5 L964 741.5 L962 741.4 L960 741.4 L958 741.4 L956 741.3 L954 741.3Z" fill="#ccfcfc"/>
<path d="M905 739.7 L910 739.8 L915 739.8 L920 739.9 L925 740 L930 740.1 L935 740.2 L940 740.3 L945 740.4 L950 740.5 L955 740.6 L960 740.7 L965 740.8 L970 740.9 L975 741 L980 741.1 L985 741.2 L990 741.3 L995 741.4 L1000 741.6 L1005 741.7 L1010 741.8 L1015 742 L1020 742.1 L1025 742.3 L1030 742.4 L1035 742.6 L1040 742.7 L1045 742.8 L1050 743 L1055 743.2 L1060 743.3 L1065 743.5 L1070 743.6 L1075 743.8 L1080 743.9 L1085 744.1 L1090 744.2 L1095 744.4 L1100 744.6 L1105 744.8 L1110 745.1 L1115 745.3 L1120 745.5 L1125 745.8 L1130 746 L1135 746.3 L1140 746.5 L1145 746.8 L1150 747.1 L1155 747.3 L1160 747.6 L1165 747.8 L1170 748.1 L1175 748.3 L1180 748.6 L1185 748.9 L1190 749.3 L1195 749.7 L1200 750.2 L1205 750.7 L1210 751.2 L1215 751.9 L1220 752.5 L1225 753.2 L1230 753.8 L1235 754.5 L1240 755.2 L1245 756 L1250 756.7 L1255 757.5 L1260 758.3 L1265 759.1 L1270 760 L1275 760.8 L1280 761.6 L1285 762.4 L1290 763.1 L1295 763.8 L1300 764.3 L1305 764.8 L1310 765.2 L1315 765.6 L1320 766 L1325 766.3 L1330 766.6 L1335 766.9 L1340 767.2 L1345 767.5 L1350 767.8 L1355 768.1 L1360 768.3 L1365 768.5 L1370 768.7 L1375 768.9 L1380 769.1 L1385 769.2 L1390 769.3 L1395 769.5 L1400 769.6 L1405 769.8 L1410 769.9 L1415 770 L1420 770.1 L1425 770.2 L1430 770.2 L1435 770.3 L1440 770.4 L1445 770.4 L1450 770.4 L1455 770.5 L1460 770.5 L1465 770.6 L1470 770.6 L1475 770.6 L1480 770.7 L1485 770.7 L1490 770.8 L1495 770.8 L1500 770.8 L1505 770.9 L1510 770.9 L1515 770.9" fill="none" stroke="#959595" stroke-width="3.8"/>
<path d="M905 738.3 L906 738.7 L907 739.1 L908 739.4 L909 739.5 L910 739.5 L911 739.3 L912 739.2 L913 739.1 L914 739.3 L915 739.6 L916 740.2 L917 740.9 L918 741.4 L919 741.9 L920 742.1 L921 742 L922 741.8 L923 741.4 L924 740.9 L925 740.3 L926 739.9 L927 739.5 L928 739.2 L929 739.1 L930 739.2 L931 739.3 L932 739.5 L933 739.8 L934 740.1 L935 740.2 L936 740.1 L937 739.8 L938 739.4 L939 739 L940 738.7 L941 738.5 L942 738.4 L943 738.5 L944 738.6 L945 738.8 L946 739 L947 739.2 L948 739.3 L949 739.3 L950 739.2 L951 739 L952 738.8 L953 738.6 L954 738.5 L955 738.4 L956 738.5 L957 738.6 L958 738.6 L959 738.6 L960 738.4 L961 738 L962 737.3 L963 736.5 L964 735.7 L965 735 L966 734.5 L967 734.2 L968 734.1 L969 734 L970 733.7 L971 733.3 L972 732.5 L973 731.5 L974 730.4 L975 729 L976 727 L977 725.6 L978 724 L979 722.3 L980 720.5 L981 718.5 L982 716.5 L983 714.4 L984 712.1 L985 709.8 L986 707.4 L987 704.9 L988 702.4 L989 699.8 L990 697.2 L991 694.5 L992 691.8 L993 689.2 L994 686.6 L995 684 L996 681.6 L997 679.2 L998 676.9 L999 674.7 L1000 672.7 L1001 670.9 L1002 669.3 L1003 667.8 L1004 666.6 L1005 665.6 L1006 664.8 L1007 664.2 L1008 663.9 L1009 663.9 L1010 664.1 L1011 664.6 L1012 665.3 L1013 666.2 L1014 667.3 L1015 668.7 L1016 670.2 L1017 672 L1018 673.9 L1019 675.9 L1020 678.1 L1021 680.4 L1022 682.7 L1023 685.1 L1024 687.5 L1025 690 L1026 692.4 L1027 694.8 L1028 697.2 L1029 699.5 L1030 701.7 L1031 703.8 L1032 705.7 L1033 707.5 L1034 709.2 L1035 710.7 L1036 712 L1037 713.2 L1038 714.1 L1039 714.9 L1040 715.4 L1041 715.8 L1042 715.9 L1043 715.9 L1044 715.6 L1045 715.1 L1046 714.5 L1047 713.6 L1048 712.6 L1049 711.3 L1050 709.9 L1051 708.4 L1052 706.7 L1053 704.8 L1054 702.8 L1055 700.7 L1056 698.6 L1057 696.3 L1058 694 L1059 691.6 L1060 689.2 L1061 686.8 L1062 684.3 L1063 682 L1064 679.6 L1065 677.3 L1066 675.1 L1067 673 L1068 671.1 L1069 669.2 L1070 667.5 L1071 666 L1072 664.7 L1073 663.5 L1074 662.5 L1075 661.8 L1076 661.3 L1077 660.9 L1078 660.9 L1079 661 L1080 661.3 L1081 661.9 L1082 662.7 L1083 663.7 L1084 664.9 L1085 666.3 L1086 667.9 L1087 669.6 L1088 671.5 L1089 673.6 L1090 675.7 L1091 678 L1092 680.3 L1093 682.7 L1094 685.2 L1095 687.7 L1096 690.2 L1097 692.7 L1098 695.3 L1099 697.7 L1100 700.2 L1101 702.6 L1102 704.9 L1103 707.1 L1104 709.3 L1105 711.3 L1106 713.3 L1107 715.1 L1108 716.8 L1109 718.4 L1110 719.9 L1111 721.2 L1112 722.4 L1113 723.5 L1114 724.5 L1115 725.3 L1116 726 L1117 726.5 L1118 727 L1119 727.3 L1120 727.5 L1121 727.6 L1122 727.6 L1123 727.4 L1124 727.2 L1125 726.9 L1126 726.4 L1127 725.9 L1128 725.3 L1129 724.6 L1130 723.8 L1131 722.9 L1132 721.9 L1133 720.9 L1134 719.8 L1135 718.6 L1136 717.3 L1137 715.9 L1138 714.5 L1139 713 L1140 711.4 L1141 709.7 L1142 708 L1143 706.1 L1144 704.2 L1145 702.3 L1146 700.2 L1147 698.1 L1148 695.8 L1149 693.5 L1150 691.1 L1151 688.7 L1152 686.1 L1153 683.5 L1154 680.8 L1155 678 L1156 675.1 L1157 672.2 L1158 669.2 L1159 666.1 L1160 663 L1161 659.7 L1162 656.5 L1163 653.1 L1164 649.7 L1165 646.3 L1166 642.8 L1167 639.3 L1168 635.8 L1169 632.2 L1170 628.6 L1171 625 L1172 621.4 L1173 617.9 L1174 614.3 L1175 610.7 L1176 607.2 L1177 603.7 L1178 600.2 L1179 596.8 L1180 593.4 L1181 590.1 L1182 586.9 L1183 583.7 L1184 580.6 L1185 577.6 L1186 574.7 L1187 571.8 L1188 569 L1189 566.4 L1190 563.8 L1191 561.3 L1192 558.9 L1193 556.6 L1194 554.4 L1195 552.2 L1196 550.2 L1197 548.1 L1198 546.2 L1199 544.3 L1200 542.5 L1201 540.7 L1202 538.9 L1203 537.1 L1204 535.4 L1205 533.6 L1206 531.8 L1207 529.9 L1208 528.1 L1209 526.1 L1210 524.1 L1211 522 L1212 519.7 L1213 517.4 L1214 514.8 L1215 512.2 L1216 509.4 L1217 506.4 L1218 503.2 L1219 499.8 L1220 496.1 L1221 492.3 L1222 488.2 L1223 483.9 L1224 479.3 L1225 474.5 L1226 469.4 L1227 464 L1228 458.4 L1229 452.6 L1230 446.4 L1231 440.1 L1232 433.4 L1233 426.6 L1234 419.5 L1235 412.2 L1236 404.8 L1237 397.1 L1238 389.3 L1239 381.3 L1240 373.2 L1241 365 L1242 356.7 L1243 348.4 L1244 340 L1245 331.6 L1246 323.3 L1247 315 L1248 306.8 L1249 298.7 L1250 290.8 L1251 283 L1252 275.4 L1253 268 L1254 260.9 L1255 254.1 L1256 247.6 L1257 241.5 L1258 235.7 L1259 230.3 L1260 225.3 L1261 220.8 L1262 216.7 L1263 213.1 L1264 209.9 L1265 207.3 L1266 205.2 L1267 203.6 L1268 202.6 L1269 202.1 L1270 202.2 L1271 202.8 L1272 203.9 L1273 205.7 L1274 207.9 L1275 210.7 L1276 214.1 L1277 217.9 L1278 222.3 L1279 227.2 L1280 232.6 L1281 238.4 L1282 244.7 L1283 251.4 L1284 258.5 L1285 266 L1286 273.9 L1287 282.1 L1288 290.6 L1289 299.4 L1290 308.4 L1291 317.7 L1292 327.2 L1293 336.9 L1294 346.7 L1295 356.6 L1296 366.6 L1297 376.7 L1298 386.8 L1299 396.9 L1300 407 L1301 417 L1302 427 L1303 436.8 L1304 446.6 L1305 456.1 L1306 465.6 L1307 474.8 L1308 483.8 L1309 492.6 L1310 501.2 L1311 509.4 L1312 517.5 L1313 525.2 L1314 532.7 L1315 539.8 L1316 546.6 L1317 553.1 L1318 559.3 L1319 565.1 L1320 570.6 L1321 575.7 L1322 580.5 L1323 584.9 L1324 589 L1325 592.8 L1326 596.2 L1327 599.3 L1328 602.1 L1329 604.5 L1330 606.7 L1331 608.5 L1332 610 L1333 611.3 L1334 612.3 L1335 613.1 L1336 613.6 L1337 613.9 L1338 614 L1339 613.9 L1340 613.7 L1341 613.3 L1342 612.8 L1343 612.2 L1344 611.5 L1345 610.8 L1346 610 L1347 609.2 L1348 608.3 L1349 607.5 L1350 606.8 L1351 606 L1352 605.4 L1353 604.9 L1354 604.4 L1355 604.1 L1356 603.9 L1357 603.9 L1358 604 L1359 604.3 L1360 604.8 L1361 605.5 L1362 606.3 L1363 607.4 L1364 608.6 L1365 610 L1366 611.6 L1367 613.3 L1368 615.1 L1369 617.1 L1370 619.3 L1371 621.6 L1372 624.1 L1373 626.6 L1374 629.4 L1375 632.2 L1376 635.2 L1377 638.2 L1378 641.4 L1379 644.6 L1380 648 L1381 651.4 L1382 654.8 L1383 658.3 L1384 661.9 L1385 665.5 L1386 669.1 L1387 672.7 L1388 676.3 L1389 679.9 L1390 683.5 L1391 687.1 L1392 690.6 L1393 694.1 L1394 697.5 L1395 700.9 L1396 704.2 L1397 707.4 L1398 710.6 L1399 713.7 L1400 716.7 L1401 719.6 L1402 722.4 L1403 725.2 L1404 727.8 L1405 730.3 L1406 732.8 L1407 735.1 L1408 737.3 L1409 739.5 L1410 741.5 L1411 743.4 L1412 745.3 L1413 747 L1414 748.7 L1415 750.2 L1416 751.7 L1417 753.1 L1418 754.4 L1419 755.6 L1420 756.8 L1421 757.9 L1422 758.9 L1423 759.8 L1424 760.7 L1425 761.6 L1426 762.4 L1427 763 L1428 763.6 L1429 764.2 L1430 764.7 L1431 765.2 L1432 765.7 L1433 766.2 L1434 766.6 L1435 767 L1436 767.3 L1437 767.7 L1438 768 L1439 768.2 L1440 768.5 L1441 768.7 L1442 769 L1443 769.2 L1444 769.4 L1445 769.6 L1446 769.7 L1447 769.9 L1448 769.9 L1449 770 L1450 770 L1451 770 L1452 769.9 L1453 769.8 L1454 769.8 L1455 769.7 L1456 769.7 L1457 769.7 L1458 769.7 L1459 769.8 L1460 769.9 L1461 770 L1462 770 L1463 770.1 L1464 770.2 L1465 770.2 L1466 770.3 L1467 770.3 L1468 770.3 L1469 770.3 L1470 770.3 L1471 770.3 L1472 770.3 L1473 770.2 L1474 770.2 L1475 770.1 L1476 770.1 L1477 770 L1478 769.9 L1479 769.9 L1480 769.9 L1481 769.8 L1482 769.8 L1483 769.8 L1484 769.8 L1485 769.9 L1486 769.9 L1487 769.9 L1488 769.9 L1489 770 L1490 770 L1491 770 L1492 770.1 L1493 770.1 L1494 770.1 L1495 770.1 L1496 770.1 L1497 770.1 L1498 770.1 L1499 770.1 L1500 770 L1501 770 L1502 769.9 L1503 769.9 L1504 769.9 L1505 770 L1506 770 L1507 770.1 L1508 770.2 L1509 770.3 L1510 770.4 L1511 770.4 L1512 770.4 L1513 770.4 L1514 770.3 L1515 770.3 L1516 770.2 L1517 770.2 L1518 770.2 L1519 770.2" fill="none" stroke="#000" stroke-width="6" stroke-linejoin="round" stroke-linecap="round"/>
<path d="M905 738.3 L906 738.7 L907 739.1 L908 739.4 L909 739.5 L910 739.5 L911 739.3 L912 739.2 L913 739.1 L914 739.3 L915 739.6 L916 740.2 L917 740.9 L918 741.4 L919 741.9 L920 742.1 L921 742 L922 741.8 L923 741.4 L924 740.9 L925 740.3 L926 739.9 L927 739.5 L928 739.2 L929 739.1 L930 739.2 L931 739.3 L932 739.5 L933 739.8 L934 740.1 L935 740.2 L936 740.1 L937 739.8 L938 739.4 L939 739 L940 738.7 L941 738.5 L942 738.4 L943 738.5 L944 738.6 L945 738.8 L946 739 L947 739.2 L948 739.3 L949 739.3 L950 739.2 L951 739 L952 738.8 L953 738.6 L954 738.5 L955 738.4 L956 738.5 L957 738.6 L958 738.6 L959 738.6 L960 738.4 L961 738 L962 737.3 L963 736.5 L964 735.7 L965 735 L966 734.5 L967 734.2 L968 734.1 L969 734 L970 733.7 L971 733.3 L972 732.5" fill="none" stroke="#000" stroke-width="7.2" stroke-linejoin="round" stroke-linecap="round"/>
<path d="M1432 765.7 L1433 766.2 L1434 766.6 L1435 767 L1436 767.3 L1437 767.7 L1438 768 L1439 768.2 L1440 768.5 L1441 768.7 L1442 769 L1443 769.2 L1444 769.4 L1445 769.6 L1446 769.7 L1447 769.9 L1448 769.9 L1449 770 L1450 770 L1451 770 L1452 769.9 L1453 769.8 L1454 769.8 L1455 769.7 L1456 769.7 L1457 769.7 L1458 769.7 L1459 769.8 L1460 769.9 L1461 770 L1462 770 L1463 770.1 L1464 770.2 L1465 770.2 L1466 770.3 L1467 770.3 L1468 770.3 L1469 770.3 L1470 770.3 L1471 770.3 L1472 770.3 L1473 770.2 L1474 770.2 L1475 770.1 L1476 770.1 L1477 770 L1478 769.9 L1479 769.9 L1480 769.9 L1481 769.8 L1482 769.8 L1483 769.8 L1484 769.8 L1485 769.9 L1486 769.9 L1487 769.9 L1488 769.9 L1489 770 L1490 770 L1491 770 L1492 770.1 L1493 770.1 L1494 770.1 L1495 770.1 L1496 770.1 L1497 770.1 L1498 770.1 L1499 770.1 L1500 770 L1501 770 L1502 769.9 L1503 769.9 L1504 769.9 L1505 770 L1506 770 L1507 770.1 L1508 770.2 L1509 770.3 L1510 770.4 L1511 770.4 L1512 770.4 L1513 770.4 L1514 770.3 L1515 770.3 L1516 770.2 L1517 770.2 L1518 770.2 L1519 770.2" fill="none" stroke="#000" stroke-width="7.4" stroke-linejoin="round" stroke-linecap="round"/>
<g fill="#858585"><circle cx="860" cy="1573.5" r="5"/><circle cx="864" cy="1564.7" r="5"/><circle cx="868" cy="1569" r="5"/><circle cx="872" cy="1567.7" r="5"/><circle cx="876" cy="1569.3" r="5"/><circle cx="880" cy="1566.8" r="5"/><circle cx="884" cy="1570.9" r="5"/><circle cx="888" cy="1565.1" r="5"/><circle cx="892" cy="1569.9" r="5"/><circle cx="896" cy="1569.1" r="5"/><circle cx="900" cy="1572.6" r="5"/><circle cx="904" cy="1570.2" r="5"/><circle cx="908" cy="1571.9" r="5"/><circle cx="912" cy="1571.6" r="5"/><circle cx="916" cy="1569.4" r="5"/><circle cx="920" cy="1569.5" r="5"/><circle cx="924" cy="1569.8" r="5"/><circle cx="928" cy="1571" r="5"/><circle cx="932" cy="1569.9" r="5"/><circle cx="936" cy="1565.3" r="5"/><circle cx="940" cy="1568.9" r="5"/><circle cx="944" cy="1570.6" r="5"/><circle cx="948" cy="1572.6" r="5"/><circle cx="952" cy="1571.6" r="5"/><circle cx="956" cy="1565.2" r="5"/><circle cx="960" cy="1571.5" r="5"/><circle cx="964" cy="1572.6" r="5"/><circle cx="968" cy="1570.6" r="5"/><circle cx="972" cy="1570.6" r="5"/><circle cx="976" cy="1566" r="5"/><circle cx="980" cy="1558.6" r="5"/><circle cx="984" cy="1559" r="5"/><circle cx="988" cy="1561.5" r="5"/><circle cx="988.8" cy="1550" r="5"/><circle cx="994.2" cy="1547" r="5"/><circle cx="998.2" cy="1536" r="5"/><circle cx="1001.9" cy="1524.2" r="5"/><circle cx="1004.8" cy="1521.2" r="5"/><circle cx="1009.4" cy="1516.5" r="5"/><circle cx="1012.1" cy="1507.4" r="5"/><circle cx="1020" cy="1506.6" r="5"/><circle cx="1024" cy="1504.9" r="5"/><circle cx="1028" cy="1506.1" r="5"/><circle cx="1032" cy="1507.2" r="5"/><circle cx="1036" cy="1502.8" r="5"/><circle cx="1040" cy="1513.9" r="5"/><circle cx="1044" cy="1513.7" r="5"/><circle cx="1048" cy="1525.8" r="5"/><circle cx="1052" cy="1525.6" r="5"/><circle cx="1056" cy="1518.2" r="5"/><circle cx="1060" cy="1522.9" r="5"/><circle cx="1064" cy="1523.4" r="5"/><circle cx="1068" cy="1519.8" r="5"/><circle cx="1071.4" cy="1520" r="5"/><circle cx="1074.7" cy="1506.1" r="5"/><circle cx="1078.6" cy="1500.9" r="5"/><circle cx="1083.2" cy="1500.5" r="5"/><circle cx="1088" cy="1491.9" r="5"/><circle cx="1092" cy="1485.4" r="5"/><circle cx="1096" cy="1480.7" r="5"/><circle cx="1100" cy="1488" r="5"/><circle cx="1104" cy="1486.5" r="5"/><circle cx="1109.5" cy="1498.3" r="5"/><circle cx="1113.6" cy="1499.8" r="5"/><circle cx="1117.5" cy="1512.4" r="5"/><circle cx="1120.2" cy="1517.7" r="5"/><circle cx="1126" cy="1534.3" r="5"/><circle cx="1128.2" cy="1538.1" r="5"/><circle cx="1133.1" cy="1538.7" r="5"/><circle cx="1136" cy="1542.7" r="5"/><circle cx="1140" cy="1548.7" r="5"/><circle cx="1144" cy="1546.3" r="5"/><circle cx="1148" cy="1543.2" r="5"/><circle cx="1152" cy="1545.9" r="5"/><circle cx="1151.9" cy="1542.3" r="5"/><circle cx="1157.9" cy="1536.6" r="5"/><circle cx="1162.8" cy="1529.5" r="5"/><circle cx="1167.5" cy="1522.7" r="5"/><circle cx="1167.2" cy="1510.4" r="5"/><circle cx="1173.2" cy="1496.7" r="5"/><circle cx="1179.5" cy="1496.3" r="5"/><circle cx="1178.1" cy="1480.7" r="5"/><circle cx="1187.6" cy="1463.9" r="5"/><circle cx="1189.9" cy="1462.9" r="5"/><circle cx="1188.9" cy="1455" r="5"/><circle cx="1198.1" cy="1442.6" r="5"/><circle cx="1204" cy="1442.6" r="5"/><circle cx="1208" cy="1434.2" r="5"/><circle cx="1212" cy="1433.3" r="5"/><circle cx="1216" cy="1434.6" r="5"/><circle cx="1220" cy="1431.6" r="5"/><circle cx="1224" cy="1426.8" r="5"/><circle cx="1228" cy="1419.7" r="5"/><circle cx="1229.3" cy="1418.6" r="5"/><circle cx="1235.4" cy="1417.6" r="5"/><circle cx="1239.4" cy="1402.4" r="5"/><circle cx="1241.9" cy="1399.1" r="5"/><circle cx="1247.4" cy="1383.2" r="5"/><circle cx="1250.1" cy="1375.4" r="5"/><circle cx="1253.6" cy="1351.9" r="5"/><circle cx="1257.2" cy="1343.3" r="5"/><circle cx="1263.2" cy="1330.2" r="5"/><circle cx="1267.7" cy="1324.8" r="5"/><circle cx="1271.9" cy="1321.5" r="5"/><circle cx="1276" cy="1306.1" r="5"/><circle cx="1280" cy="1303" r="5"/><circle cx="1284" cy="1307" r="5"/><circle cx="1291.5" cy="1308.7" r="5"/><circle cx="1292.8" cy="1320.1" r="5"/><circle cx="1298.7" cy="1333.9" r="5"/><circle cx="1300.7" cy="1346.6" r="5"/><circle cx="1306.3" cy="1360.8" r="5"/><circle cx="1308.9" cy="1389.3" r="5"/><circle cx="1312.4" cy="1398" r="5"/><circle cx="1318.8" cy="1421.7" r="5"/><circle cx="1327.5" cy="1433.4" r="5"/><circle cx="1327" cy="1460.2" r="5"/><circle cx="1329" cy="1474.2" r="5"/><circle cx="1336" cy="1481" r="5"/><circle cx="1338.6" cy="1489.6" r="5"/><circle cx="1343.5" cy="1496.1" r="5"/><circle cx="1344" cy="1504.3" r="5"/><circle cx="1348" cy="1501.8" r="5"/><circle cx="1352" cy="1510.6" r="5"/><circle cx="1356" cy="1509.7" r="5"/><circle cx="1360" cy="1516.3" r="5"/><circle cx="1364" cy="1511.5" r="5"/><circle cx="1368" cy="1521.5" r="5"/><circle cx="1374.9" cy="1525.2" r="5"/><circle cx="1383.3" cy="1533.7" r="5"/><circle cx="1385.2" cy="1534.3" r="5"/><circle cx="1387.7" cy="1547" r="5"/><circle cx="1388.8" cy="1542.6" r="5"/><circle cx="1393.1" cy="1551.1" r="5"/><circle cx="1397.2" cy="1562.3" r="5"/><circle cx="1400" cy="1563.8" r="5"/><circle cx="1404" cy="1572.1" r="5"/><circle cx="1408" cy="1573.3" r="5"/><circle cx="1412" cy="1577.8" r="5"/><circle cx="1416" cy="1577.3" r="5"/><circle cx="1420" cy="1579.3" r="5"/><circle cx="1424" cy="1582.9" r="5"/><circle cx="1428" cy="1583.1" r="5"/><circle cx="1432" cy="1579.8" r="5"/><circle cx="1436" cy="1586.2" r="5"/><circle cx="1440" cy="1581.1" r="5"/><circle cx="1444" cy="1579.6" r="5"/><circle cx="1448" cy="1587.6" r="5"/><circle cx="1452" cy="1582.7" r="5"/><circle cx="1456" cy="1581" r="5"/><circle cx="1460" cy="1583.6" r="5"/><circle cx="1464" cy="1587.1" r="5"/><circle cx="1468" cy="1578.5" r="5"/><circle cx="1472" cy="1580.6" r="5"/><circle cx="1476" cy="1576.7" r="5"/><circle cx="1480" cy="1582.1" r="5"/><circle cx="1484" cy="1585.7" r="5"/><circle cx="1488" cy="1586.2" r="5"/><circle cx="1492" cy="1580.9" r="5"/><circle cx="1496" cy="1582.9" r="5"/><circle cx="1500" cy="1585.5" r="5"/><circle cx="1504" cy="1587.8" r="5"/><circle cx="1508" cy="1584.6" r="5"/><circle cx="1512" cy="1583.8" r="5"/><circle cx="1516" cy="1583.2" r="5"/></g>
<path d="M1281 1579 L1283 1579 L1285 1578.9 L1287 1578.8 L1289 1578.7 L1291 1578.5 L1293 1578.2 L1295 1577.9 L1297 1577.5 L1299 1577 L1301 1576.4 L1303 1575.7 L1305 1574.9 L1307 1574 L1309 1572.9 L1311 1571.7 L1313 1570.4 L1315 1568.9 L1317 1567.2 L1319 1565.4 L1321 1563.4 L1323 1561.3 L1325 1559 L1327 1556.7 L1329 1554.2 L1331 1551.6 L1333 1549 L1335 1546.3 L1337 1543.7 L1339 1541 L1341 1538.5 L1343 1536 L1345 1533.7 L1347 1531.5 L1349 1529.6 L1351 1527.9 L1353 1526.5 L1355 1525.4 L1357 1524.6 L1359 1524.1 L1361 1524 L1363 1524.2 L1365 1524.8 L1367 1525.7 L1369 1526.9 L1371 1528.5 L1373 1530.3 L1375 1532.3 L1377 1534.6 L1379 1537 L1381 1539.6 L1383 1542.3 L1385 1545.1 L1387 1547.9 L1389 1550.7 L1391 1553.5 L1393 1556.2 L1395 1558.8 L1397 1561.3 L1399 1563.7 L1401 1566 L1403 1568.1 L1405 1570 L1407 1571.8 L1409 1573.5 L1411 1575 L1413 1576.3 L1415 1577.5 L1417 1578.5 L1419 1579.5 L1421 1580.3 L1423 1581 L1425 1581.6 L1427 1582.1 L1429 1582.6 L1431 1582.9 L1433 1583.3 L1435 1583.5 L1437 1583.7 L1439 1583.9 L1441 1584.1 L1441 1585.8 L1439 1585.8 L1437 1585.8 L1435 1585.8 L1433 1585.7 L1431 1585.7 L1429 1585.7 L1427 1585.7 L1425 1585.7 L1423 1585.6 L1421 1585.6 L1419 1585.6 L1417 1585.6 L1415 1585.5 L1413 1585.5 L1411 1585.5 L1409 1585.4 L1407 1585.4 L1405 1585.4 L1403 1585.3 L1401 1585.3 L1399 1585.2 L1397 1585.2 L1395 1585.2 L1393 1585.1 L1391 1585.1 L1389 1585 L1387 1585 L1385 1584.9 L1383 1584.9 L1381 1584.9 L1379 1584.8 L1377 1584.8 L1375 1584.7 L1373 1584.7 L1371 1584.6 L1369 1584.6 L1367 1584.5 L1365 1584.5 L1363 1584.4 L1361 1584.4 L1359 1584.3 L1357 1584.3 L1355 1584.2 L1353 1584.1 L1351 1584.1 L1349 1584 L1347 1583.9 L1345 1583.9 L1343 1583.8 L1341 1583.7 L1339 1583.6 L1337 1583.5 L1335 1583.4 L1333 1583.3 L1331 1583.2 L1329 1583.1 L1327 1583 L1325 1582.9 L1323 1582.8 L1321 1582.7 L1319 1582.6 L1317 1582.5 L1315 1582.4 L1313 1582.3 L1311 1582.2 L1309 1582.1 L1307 1582 L1305 1582 L1303 1581.9 L1301 1581.8 L1299 1581.6 L1297 1581.5 L1295 1581.5 L1293 1581.4 L1291 1581.3 L1289 1581.2 L1287 1581.1 L1285 1581 L1283 1580.9 L1281 1580.8Z" fill="#fcba3e"/>
<path d="M1201 1575.8 L1203 1575.7 L1205 1575.6 L1207 1575.5 L1209 1575.2 L1211 1575 L1213 1574.6 L1215 1574.2 L1217 1573.6 L1219 1573 L1221 1572.2 L1223 1571.3 L1225 1570.2 L1227 1568.9 L1229 1567.4 L1231 1565.6 L1233 1563.6 L1235 1561.3 L1237 1558.8 L1239 1555.9 L1241 1552.6 L1243 1549.1 L1245 1545.1 L1247 1540.8 L1249 1536.2 L1251 1531.2 L1253 1525.9 L1255 1520.2 L1257 1514.3 L1259 1508.1 L1261 1501.7 L1263 1495.2 L1265 1488.6 L1267 1481.9 L1269 1475.3 L1271 1468.8 L1273 1462.5 L1275 1456.5 L1277 1450.9 L1279 1445.7 L1281 1441 L1283 1436.9 L1285 1433.4 L1287 1430.7 L1289 1428.6 L1291 1427.4 L1293 1427 L1295 1427.4 L1297 1428.6 L1299 1430.5 L1301 1433.3 L1303 1436.7 L1305 1440.8 L1307 1445.6 L1309 1450.8 L1311 1456.5 L1313 1462.6 L1315 1469.1 L1317 1475.7 L1319 1482.5 L1321 1489.3 L1323 1496.2 L1325 1502.9 L1327 1509.6 L1329 1516 L1331 1522.2 L1333 1528.1 L1335 1533.7 L1337 1539 L1339 1543.9 L1341 1548.5 L1343 1552.7 L1345 1556.5 L1347 1560 L1349 1563.1 L1351 1565.9 L1353 1568.4 L1355 1570.6 L1357 1572.6 L1359 1574.3 L1361 1575.8 L1363 1577.1 L1365 1578.2 L1367 1579.1 L1369 1579.9 L1371 1580.6 L1373 1581.2 L1375 1581.7 L1377 1582.1 L1379 1582.4 L1381 1582.7 L1383 1583 L1385 1583.2 L1385 1584.9 L1383 1584.9 L1381 1584.9 L1379 1584.8 L1377 1584.8 L1375 1584.7 L1373 1584.7 L1371 1584.6 L1369 1584.6 L1367 1584.5 L1365 1584.5 L1363 1584.4 L1361 1584.4 L1359 1584.3 L1357 1584.3 L1355 1584.2 L1353 1584.1 L1351 1584.1 L1349 1584 L1347 1583.9 L1345 1583.9 L1343 1583.8 L1341 1583.7 L1339 1583.6 L1337 1583.5 L1335 1583.4 L1333 1583.3 L1331 1583.2 L1329 1583.1 L1327 1583 L1325 1582.9 L1323 1582.8 L1321 1582.7 L1319 1582.6 L1317 1582.5 L1315 1582.4 L1313 1582.3 L1311 1582.2 L1309 1582.1 L1307 1582 L1305 1582 L1303 1581.9 L1301 1581.8 L1299 1581.6 L1297 1581.5 L1295 1581.5 L1293 1581.4 L1291 1581.3 L1289 1581.2 L1287 1581.1 L1285 1581 L1283 1580.9 L1281 1580.8 L1279 1580.7 L1277 1580.6 L1275 1580.5 L1273 1580.4 L1271 1580.3 L1269 1580.2 L1267 1580.1 L1265 1580 L1263 1579.9 L1261 1579.8 L1259 1579.7 L1257 1579.6 L1255 1579.5 L1253 1579.4 L1251 1579.3 L1249 1579.3 L1247 1579.2 L1245 1579.1 L1243 1579 L1241 1578.9 L1239 1578.9 L1237 1578.8 L1235 1578.7 L1233 1578.6 L1231 1578.6 L1229 1578.5 L1227 1578.4 L1225 1578.4 L1223 1578.3 L1221 1578.2 L1219 1578.2 L1217 1578.1 L1215 1578 L1213 1578 L1211 1577.9 L1209 1577.8 L1207 1577.8 L1205 1577.7 L1203 1577.6 L1201 1577.6Z" fill="#3cfcfc"/>
<path d="M1167 1574.7 L1169 1574.7 L1171 1574.6 L1173 1574.4 L1175 1574.3 L1177 1574.1 L1179 1573.8 L1181 1573.5 L1183 1573.1 L1185 1572.6 L1187 1572 L1189 1571.3 L1191 1570.5 L1193 1569.6 L1195 1568.5 L1197 1567.3 L1199 1565.8 L1201 1564.2 L1203 1562.4 L1205 1560.3 L1207 1558 L1209 1555.5 L1211 1552.6 L1213 1549.6 L1215 1546.2 L1217 1542.5 L1219 1538.6 L1221 1534.4 L1223 1529.9 L1225 1525.2 L1227 1520.3 L1229 1515.1 L1231 1509.8 L1233 1504.3 L1235 1498.7 L1237 1493.1 L1239 1487.4 L1241 1481.8 L1243 1476.3 L1245 1470.9 L1247 1465.8 L1249 1460.9 L1251 1456.3 L1253 1452.2 L1255 1448.4 L1257 1445.1 L1259 1442.4 L1261 1440.2 L1263 1438.6 L1265 1437.6 L1267 1437.2 L1269 1437.4 L1271 1438.3 L1273 1439.8 L1275 1441.9 L1277 1444.6 L1279 1447.8 L1281 1451.5 L1283 1455.7 L1285 1460.2 L1287 1465.1 L1289 1470.4 L1291 1475.8 L1293 1481.4 L1295 1487.2 L1297 1493 L1299 1498.8 L1301 1504.6 L1303 1510.3 L1305 1515.9 L1307 1521.3 L1309 1526.5 L1311 1531.5 L1313 1536.3 L1315 1540.8 L1317 1545 L1319 1549 L1321 1552.7 L1323 1556.1 L1325 1559.2 L1327 1562 L1329 1564.6 L1331 1567 L1333 1569.1 L1335 1570.9 L1337 1572.6 L1339 1574.1 L1341 1575.4 L1343 1576.6 L1345 1577.6 L1347 1578.5 L1349 1579.3 L1351 1579.9 L1353 1580.5 L1355 1581 L1357 1581.4 L1359 1581.8 L1361 1582.1 L1363 1582.3 L1365 1582.6 L1367 1582.8 L1367 1584.5 L1365 1584.5 L1363 1584.4 L1361 1584.4 L1359 1584.3 L1357 1584.3 L1355 1584.2 L1353 1584.1 L1351 1584.1 L1349 1584 L1347 1583.9 L1345 1583.9 L1343 1583.8 L1341 1583.7 L1339 1583.6 L1337 1583.5 L1335 1583.4 L1333 1583.3 L1331 1583.2 L1329 1583.1 L1327 1583 L1325 1582.9 L1323 1582.8 L1321 1582.7 L1319 1582.6 L1317 1582.5 L1315 1582.4 L1313 1582.3 L1311 1582.2 L1309 1582.1 L1307 1582 L1305 1582 L1303 1581.9 L1301 1581.8 L1299 1581.6 L1297 1581.5 L1295 1581.5 L1293 1581.4 L1291 1581.3 L1289 1581.2 L1287 1581.1 L1285 1581 L1283 1580.9 L1281 1580.8 L1279 1580.7 L1277 1580.6 L1275 1580.5 L1273 1580.4 L1271 1580.3 L1269 1580.2 L1267 1580.1 L1265 1580 L1263 1579.9 L1261 1579.8 L1259 1579.7 L1257 1579.6 L1255 1579.5 L1253 1579.4 L1251 1579.3 L1249 1579.3 L1247 1579.2 L1245 1579.1 L1243 1579 L1241 1578.9 L1239 1578.9 L1237 1578.8 L1235 1578.7 L1233 1578.6 L1231 1578.6 L1229 1578.5 L1227 1578.4 L1225 1578.4 L1223 1578.3 L1221 1578.2 L1219 1578.2 L1217 1578.1 L1215 1578 L1213 1578 L1211 1577.9 L1209 1577.8 L1207 1577.8 L1205 1577.7 L1203 1577.6 L1201 1577.6 L1199 1577.5 L1197 1577.4 L1195 1577.4 L1193 1577.3 L1191 1577.2 L1189 1577.2 L1187 1577.1 L1185 1577 L1183 1577 L1181 1576.9 L1179 1576.8 L1177 1576.8 L1175 1576.7 L1173 1576.6 L1171 1576.6 L1169 1576.5 L1167 1576.4Z" fill="#3c3cfd"/>
<path d="M1108 1573.2 L1110 1573.1 L1112 1573 L1114 1572.8 L1116 1572.6 L1118 1572.4 L1120 1572.1 L1122 1571.8 L1124 1571.4 L1126 1570.9 L1128 1570.3 L1130 1569.7 L1132 1568.9 L1134 1568 L1136 1567 L1138 1565.9 L1140 1564.6 L1142 1563.1 L1144 1561.4 L1146 1559.6 L1148 1557.5 L1150 1555.2 L1152 1552.7 L1154 1550 L1156 1547.1 L1158 1543.9 L1160 1540.5 L1162 1536.9 L1164 1533.1 L1166 1529.1 L1168 1525 L1170 1520.7 L1172 1516.3 L1174 1511.8 L1176 1507.2 L1178 1502.7 L1180 1498.1 L1182 1493.7 L1184 1489.3 L1186 1485.2 L1188 1481.2 L1190 1477.5 L1192 1474.1 L1194 1471.1 L1196 1468.5 L1198 1466.2 L1200 1464.4 L1202 1463.1 L1204 1462.3 L1206 1462 L1208 1462.2 L1210 1462.8 L1212 1463.9 L1214 1465.4 L1216 1467.3 L1218 1469.5 L1220 1472.2 L1222 1475.2 L1224 1478.5 L1226 1482.1 L1228 1485.9 L1230 1489.9 L1232 1494 L1234 1498.3 L1236 1502.7 L1238 1507.1 L1240 1511.5 L1242 1515.9 L1244 1520.2 L1246 1524.5 L1248 1528.6 L1250 1532.6 L1252 1536.5 L1254 1540.2 L1256 1543.7 L1258 1547.1 L1260 1550.2 L1262 1553.2 L1264 1555.9 L1266 1558.5 L1268 1560.8 L1270 1563 L1272 1565 L1274 1566.8 L1276 1568.5 L1278 1570 L1280 1571.3 L1282 1572.5 L1284 1573.6 L1286 1574.6 L1288 1575.4 L1290 1576.2 L1292 1576.9 L1294 1577.5 L1296 1578 L1298 1578.5 L1300 1578.9 L1302 1579.3 L1304 1579.6 L1306 1579.9 L1308 1580.2 L1310 1580.4 L1310 1582.2 L1308 1582.1 L1306 1582 L1304 1581.9 L1302 1581.8 L1300 1581.7 L1298 1581.6 L1296 1581.5 L1294 1581.4 L1292 1581.3 L1290 1581.2 L1288 1581.1 L1286 1581 L1284 1580.9 L1282 1580.8 L1280 1580.7 L1278 1580.6 L1276 1580.5 L1274 1580.4 L1272 1580.3 L1270 1580.2 L1268 1580.1 L1266 1580 L1264 1579.9 L1262 1579.8 L1260 1579.7 L1258 1579.6 L1256 1579.6 L1254 1579.5 L1252 1579.4 L1250 1579.3 L1248 1579.2 L1246 1579.1 L1244 1579.1 L1242 1579 L1240 1578.9 L1238 1578.8 L1236 1578.8 L1234 1578.7 L1232 1578.6 L1230 1578.5 L1228 1578.5 L1226 1578.4 L1224 1578.3 L1222 1578.3 L1220 1578.2 L1218 1578.1 L1216 1578.1 L1214 1578 L1212 1577.9 L1210 1577.9 L1208 1577.8 L1206 1577.7 L1204 1577.7 L1202 1577.6 L1200 1577.5 L1198 1577.5 L1196 1577.4 L1194 1577.3 L1192 1577.3 L1190 1577.2 L1188 1577.1 L1186 1577.1 L1184 1577 L1182 1576.9 L1180 1576.9 L1178 1576.8 L1176 1576.7 L1174 1576.7 L1172 1576.6 L1170 1576.5 L1168 1576.5 L1166 1576.4 L1164 1576.3 L1162 1576.3 L1160 1576.2 L1158 1576.1 L1156 1576.1 L1154 1576 L1152 1575.9 L1150 1575.9 L1148 1575.8 L1146 1575.8 L1144 1575.7 L1142 1575.6 L1140 1575.6 L1138 1575.5 L1136 1575.5 L1134 1575.4 L1132 1575.4 L1130 1575.3 L1128 1575.3 L1126 1575.2 L1124 1575.2 L1122 1575.1 L1120 1575.1 L1118 1575.1 L1116 1575 L1114 1575 L1112 1575 L1110 1575 L1108 1574.9Z" fill="#9c9cfd"/>
<path d="M1019 1572.1 L1021 1571.9 L1023 1571.8 L1025 1571.6 L1027 1571.3 L1029 1570.9 L1031 1570.5 L1033 1570 L1035 1569.3 L1037 1568.6 L1039 1567.6 L1041 1566.6 L1043 1565.3 L1045 1563.8 L1047 1562.1 L1049 1560.2 L1051 1558 L1053 1555.5 L1055 1552.8 L1057 1549.8 L1059 1546.6 L1061 1543 L1063 1539.3 L1065 1535.4 L1067 1531.2 L1069 1527 L1071 1522.6 L1073 1518.3 L1075 1513.9 L1077 1509.7 L1079 1505.6 L1081 1501.8 L1083 1498.2 L1085 1495 L1087 1492.3 L1089 1490 L1091 1488.3 L1093 1487.1 L1095 1486.6 L1097 1486.6 L1099 1487.2 L1101 1488.4 L1103 1490.2 L1105 1492.5 L1107 1495.3 L1109 1498.6 L1111 1502.2 L1113 1506.1 L1115 1510.2 L1117 1514.5 L1119 1518.9 L1121 1523.3 L1123 1527.7 L1125 1532.1 L1127 1536.2 L1129 1540.3 L1131 1544.1 L1133 1547.7 L1135 1551 L1137 1554.1 L1139 1556.9 L1141 1559.4 L1143 1561.7 L1145 1563.7 L1147 1565.5 L1149 1567 L1151 1568.4 L1153 1569.6 L1155 1570.6 L1157 1571.5 L1159 1572.2 L1161 1572.8 L1163 1573.3 L1165 1573.8 L1167 1574.1 L1169 1574.4 L1171 1574.7 L1173 1574.9 L1173 1576.6 L1171 1576.6 L1169 1576.5 L1167 1576.4 L1165 1576.4 L1163 1576.3 L1161 1576.2 L1159 1576.2 L1157 1576.1 L1155 1576 L1153 1576 L1151 1575.9 L1149 1575.8 L1147 1575.8 L1145 1575.7 L1143 1575.7 L1141 1575.6 L1139 1575.5 L1137 1575.5 L1135 1575.4 L1133 1575.4 L1131 1575.3 L1129 1575.3 L1127 1575.2 L1125 1575.2 L1123 1575.2 L1121 1575.1 L1119 1575.1 L1117 1575.1 L1115 1575 L1113 1575 L1111 1575 L1109 1574.9 L1107 1574.9 L1105 1574.9 L1103 1574.9 L1101 1574.8 L1099 1574.8 L1097 1574.8 L1095 1574.7 L1093 1574.7 L1091 1574.7 L1089 1574.7 L1087 1574.6 L1085 1574.6 L1083 1574.6 L1081 1574.6 L1079 1574.5 L1077 1574.5 L1075 1574.5 L1073 1574.5 L1071 1574.4 L1069 1574.4 L1067 1574.4 L1065 1574.4 L1063 1574.3 L1061 1574.3 L1059 1574.3 L1057 1574.3 L1055 1574.2 L1053 1574.2 L1051 1574.2 L1049 1574.2 L1047 1574.1 L1045 1574.1 L1043 1574.1 L1041 1574.1 L1039 1574 L1037 1574 L1035 1574 L1033 1573.9 L1031 1573.9 L1029 1573.9 L1027 1573.9 L1025 1573.8 L1023 1573.8 L1021 1573.8 L1019 1573.8Z" fill="#9de0fc"/>
<path d="M958 1571 L960 1570.9 L962 1570.7 L964 1570.4 L966 1570.1 L968 1569.7 L970 1569.2 L972 1568.6 L974 1567.8 L976 1566.8 L978 1565.7 L980 1564.4 L982 1562.9 L984 1561.2 L986 1559.2 L988 1556.9 L990 1554.4 L992 1551.7 L994 1548.7 L996 1545.6 L998 1542.2 L1000 1538.7 L1002 1535 L1004 1531.3 L1006 1527.6 L1008 1524 L1010 1520.5 L1012 1517.2 L1014 1514.2 L1016 1511.5 L1018 1509.2 L1020 1507.4 L1022 1506.1 L1024 1505.3 L1026 1505 L1028 1505.3 L1030 1506.2 L1032 1507.5 L1034 1509.4 L1036 1511.8 L1038 1514.5 L1040 1517.6 L1042 1520.9 L1044 1524.5 L1046 1528.2 L1048 1531.9 L1050 1535.7 L1052 1539.3 L1054 1542.9 L1056 1546.3 L1058 1549.6 L1060 1552.6 L1062 1555.4 L1064 1557.9 L1066 1560.2 L1068 1562.3 L1070 1564.1 L1072 1565.6 L1074 1567 L1076 1568.2 L1078 1569.2 L1080 1570 L1082 1570.7 L1084 1571.3 L1086 1571.8 L1088 1572.2 L1090 1572.5 L1092 1572.8 L1094 1573 L1094 1574.7 L1092 1574.7 L1090 1574.7 L1088 1574.7 L1086 1574.6 L1084 1574.6 L1082 1574.6 L1080 1574.6 L1078 1574.5 L1076 1574.5 L1074 1574.5 L1072 1574.5 L1070 1574.4 L1068 1574.4 L1066 1574.4 L1064 1574.3 L1062 1574.3 L1060 1574.3 L1058 1574.3 L1056 1574.2 L1054 1574.2 L1052 1574.2 L1050 1574.2 L1048 1574.1 L1046 1574.1 L1044 1574.1 L1042 1574.1 L1040 1574 L1038 1574 L1036 1574 L1034 1574 L1032 1573.9 L1030 1573.9 L1028 1573.9 L1026 1573.9 L1024 1573.8 L1022 1573.8 L1020 1573.8 L1018 1573.8 L1016 1573.7 L1014 1573.7 L1012 1573.7 L1010 1573.7 L1008 1573.6 L1006 1573.6 L1004 1573.6 L1002 1573.5 L1000 1573.5 L998 1573.5 L996 1573.5 L994 1573.4 L992 1573.4 L990 1573.4 L988 1573.4 L986 1573.3 L984 1573.3 L982 1573.3 L980 1573.2 L978 1573.2 L976 1573.2 L974 1573.1 L972 1573.1 L970 1573 L968 1573 L966 1573 L964 1572.9 L962 1572.9 L960 1572.8 L958 1572.8Z" fill="#ccfcfc"/>
<path d="M855 1569.8 L860 1569.8 L865 1569.9 L870 1570 L875 1570.1 L880 1570.2 L885 1570.3 L890 1570.5 L895 1570.6 L900 1570.7 L905 1570.8 L910 1570.9 L915 1571.1 L920 1571.2 L925 1571.3 L930 1571.4 L935 1571.5 L940 1571.7 L945 1571.8 L950 1571.9 L955 1572 L960 1572.1 L965 1572.2 L970 1572.3 L975 1572.4 L980 1572.5 L985 1572.6 L990 1572.7 L995 1572.8 L1000 1572.8 L1005 1572.9 L1010 1573 L1015 1573 L1020 1573.1 L1025 1573.1 L1030 1573.2 L1035 1573.3 L1040 1573.3 L1045 1573.4 L1050 1573.5 L1055 1573.5 L1060 1573.6 L1065 1573.7 L1070 1573.7 L1075 1573.8 L1080 1573.9 L1085 1573.9 L1090 1574 L1095 1574 L1100 1574.1 L1105 1574.2 L1110 1574.3 L1115 1574.3 L1120 1574.4 L1125 1574.5 L1130 1574.6 L1135 1574.7 L1140 1574.9 L1145 1575 L1150 1575.2 L1155 1575.3 L1160 1575.5 L1165 1575.7 L1170 1575.8 L1175 1576 L1180 1576.2 L1185 1576.3 L1190 1576.5 L1195 1576.7 L1200 1576.8 L1205 1577 L1210 1577.2 L1215 1577.3 L1220 1577.5 L1225 1577.7 L1230 1577.8 L1235 1578 L1240 1578.2 L1245 1578.4 L1250 1578.6 L1255 1578.8 L1260 1579 L1265 1579.3 L1270 1579.5 L1275 1579.8 L1280 1580 L1285 1580.3 L1290 1580.5 L1295 1580.8 L1300 1581 L1305 1581.2 L1310 1581.5 L1315 1581.7 L1320 1582 L1325 1582.2 L1330 1582.5 L1335 1582.7 L1340 1582.9 L1345 1583.2 L1350 1583.3 L1355 1583.5 L1360 1583.7 L1365 1583.8 L1370 1583.9 L1375 1584 L1380 1584.1 L1385 1584.2 L1390 1584.4 L1395 1584.5 L1400 1584.6 L1405 1584.7 L1410 1584.8 L1415 1584.8 L1420 1584.9 L1425 1585 L1430 1585 L1435 1585.1 L1440 1585.1 L1445 1585.1 L1450 1585.1 L1455 1585.2 L1460 1585.2 L1465 1585.2 L1470 1585.2 L1475 1585.3 L1480 1585.3 L1485 1585.3 L1490 1585.3 L1495 1585.4 L1500 1585.4 L1505 1585.4 L1510 1585.4 L1515 1585.5" fill="none" stroke="#959595" stroke-width="3.8"/>
<path d="M855 1568.9 L856 1568.8 L857 1568.7 L858 1568.7 L859 1568.7 L860 1568.8 L861 1568.9 L862 1569.1 L863 1569.3 L864 1569.6 L865 1569.9 L866 1570.1 L867 1570.3 L868 1570.5 L869 1570.6 L870 1570.7 L871 1570.8 L872 1570.8 L873 1570.8 L874 1570.7 L875 1570.6 L876 1570.4 L877 1570.3 L878 1570.1 L879 1570 L880 1570 L881 1570 L882 1570 L883 1570 L884 1570 L885 1569.9 L886 1569.8 L887 1569.6 L888 1569.4 L889 1569.2 L890 1569 L891 1568.9 L892 1568.8 L893 1568.8 L894 1568.9 L895 1569.1 L896 1569.2 L897 1569.4 L898 1569.5 L899 1569.6 L900 1569.7 L901 1569.8 L902 1569.9 L903 1570.1 L904 1570.3 L905 1570.4 L906 1570.5 L907 1570.5 L908 1570.4 L909 1570.4 L910 1570.3 L911 1570.2 L912 1570.1 L913 1569.9 L914 1569.8 L915 1569.8 L916 1569.9 L917 1570.1 L918 1570.4 L919 1570.9 L920 1571.6 L921 1572.2 L922 1572.8 L923 1573.3 L924 1573.5 L925 1573.6 L926 1573.5 L927 1573.3 L928 1572.9 L929 1572.6 L930 1572.2 L931 1571.9 L932 1571.6 L933 1571.4 L934 1571.3 L935 1571.2 L936 1571.2 L937 1571.4 L938 1571.5 L939 1571.7 L940 1571.9 L941 1572.1 L942 1572.3 L943 1572.5 L944 1572.6 L945 1572.7 L946 1572.8 L947 1572.8 L948 1572.7 L949 1572.5 L950 1572.3 L951 1572 L952 1571.6 L953 1571.2 L954 1570.8 L955 1570.6 L956 1570.4 L957 1570.4 L958 1570.6 L959 1570.9 L960 1571.2 L961 1571.5 L962 1571.8 L963 1571.9 L964 1571.9 L965 1571.8 L966 1571.6 L967 1571.3 L968 1570.9 L969 1570.5 L970 1570.2 L971 1570 L972 1569.9 L973 1569.8 L974 1569.6 L975 1569.4 L976 1569.1 L977 1568.5 L978 1567.8 L979 1566.9 L980 1566 L981 1565 L982 1564 L983 1563 L984 1562 L985 1561 L986 1559.2 L987 1558.1 L988 1556.9 L989 1555.7 L990 1554.4 L991 1553.1 L992 1551.7 L993 1550.3 L994 1548.7 L995 1547.2 L996 1545.6 L997 1543.9 L998 1542.2 L999 1540.4 L1000 1538.6 L1001 1536.8 L1002 1535 L1003 1533.1 L1004 1531.3 L1005 1529.4 L1006 1527.6 L1007 1525.7 L1008 1523.9 L1009 1522.1 L1010 1520.4 L1011 1518.7 L1012 1517 L1013 1515.5 L1014 1513.9 L1015 1512.5 L1016 1511.2 L1017 1509.9 L1018 1508.8 L1019 1507.7 L1020 1506.8 L1021 1506 L1022 1505.3 L1023 1504.7 L1024 1504.3 L1025 1504 L1026 1503.8 L1027 1503.7 L1028 1503.7 L1029 1503.9 L1030 1504.2 L1031 1504.6 L1032 1505.1 L1033 1505.7 L1034 1506.3 L1035 1507.1 L1036 1507.9 L1037 1508.9 L1038 1509.8 L1039 1510.8 L1040 1511.9 L1041 1512.9 L1042 1514 L1043 1515.1 L1044 1516.2 L1045 1517.2 L1046 1518.2 L1047 1519.2 L1048 1520.1 L1049 1521 L1050 1521.8 L1051 1522.5 L1052 1523.1 L1053 1523.7 L1054 1524.1 L1055 1524.4 L1056 1524.6 L1057 1524.7 L1058 1524.7 L1059 1524.6 L1060 1524.3 L1061 1524 L1062 1523.5 L1063 1522.9 L1064 1522.1 L1065 1521.3 L1066 1520.4 L1067 1519.3 L1068 1518.2 L1069 1517 L1070 1515.7 L1071 1514.3 L1072 1512.8 L1073 1511.3 L1074 1509.8 L1075 1508.2 L1076 1506.7 L1077 1505.1 L1078 1503.5 L1079 1501.9 L1080 1500.3 L1081 1498.8 L1082 1497.3 L1083 1495.8 L1084 1494.5 L1085 1493.2 L1086 1491.9 L1087 1490.8 L1088 1489.8 L1089 1488.9 L1090 1488.1 L1091 1487.4 L1092 1486.8 L1093 1486.4 L1094 1486.1 L1095 1486 L1096 1485.9 L1097 1486.1 L1098 1486.3 L1099 1486.8 L1100 1487.3 L1101 1488 L1102 1488.8 L1103 1489.8 L1104 1490.9 L1105 1492 L1106 1493.4 L1107 1494.8 L1108 1496.3 L1109 1497.9 L1110 1499.6 L1111 1501.4 L1112 1503.2 L1113 1505.1 L1114 1507.1 L1115 1509.1 L1116 1511.1 L1117 1513.1 L1118 1515.2 L1119 1517.2 L1120 1519.3 L1121 1521.3 L1122 1523.4 L1123 1525.3 L1124 1527.3 L1125 1529.2 L1126 1531 L1127 1532.8 L1128 1534.5 L1129 1536.2 L1130 1537.7 L1131 1539.2 L1132 1540.6 L1133 1541.9 L1134 1543.1 L1135 1544.2 L1136 1545.3 L1137 1546.2 L1138 1547 L1139 1547.7 L1140 1548.2 L1141 1548.7 L1142 1549.1 L1143 1549.3 L1144 1549.4 L1145 1549.5 L1146 1549.4 L1147 1549.2 L1148 1548.9 L1149 1548.4 L1150 1547.9 L1151 1547.2 L1152 1546.5 L1153 1545.6 L1154 1544.7 L1155 1543.6 L1156 1542.4 L1157 1541.2 L1158 1539.8 L1159 1538.3 L1160 1536.8 L1161 1535.1 L1162 1533.4 L1163 1531.6 L1164 1529.6 L1165 1527.7 L1166 1525.6 L1167 1523.5 L1168 1521.3 L1169 1519 L1170 1516.7 L1171 1514.3 L1172 1511.9 L1173 1509.4 L1174 1506.9 L1175 1504.4 L1176 1501.8 L1177 1499.2 L1178 1496.6 L1179 1494 L1180 1491.3 L1181 1488.7 L1182 1486.1 L1183 1483.5 L1184 1480.9 L1185 1478.4 L1186 1475.8 L1187 1473.3 L1188 1470.9 L1189 1468.5 L1190 1466.2 L1191 1463.9 L1192 1461.7 L1193 1459.6 L1194 1457.5 L1195 1455.5 L1196 1453.6 L1197 1451.8 L1198 1450.1 L1199 1448.5 L1200 1446.9 L1201 1445.5 L1202 1444.1 L1203 1442.8 L1204 1441.6 L1205 1440.5 L1206 1439.5 L1207 1438.6 L1208 1437.7 L1209 1436.8 L1210 1436.1 L1211 1435.3 L1212 1434.6 L1213 1434 L1214 1433.3 L1215 1432.7 L1216 1432.1 L1217 1431.5 L1218 1430.9 L1219 1430.3 L1220 1429.7 L1221 1429 L1222 1428.3 L1223 1427.6 L1224 1426.8 L1225 1426 L1226 1425.2 L1227 1424.2 L1228 1423.2 L1229 1422.1 L1230 1420.9 L1231 1419.7 L1232 1418.3 L1233 1416.9 L1234 1415.3 L1235 1413.7 L1236 1411.9 L1237 1410.1 L1238 1408.1 L1239 1406 L1240 1403.9 L1241 1401.6 L1242 1399.2 L1243 1396.7 L1244 1394.2 L1245 1391.5 L1246 1388.8 L1247 1385.9 L1248 1383 L1249 1380.1 L1250 1377 L1251 1373.9 L1252 1370.8 L1253 1367.6 L1254 1364.4 L1255 1361.2 L1256 1358 L1257 1354.8 L1258 1351.6 L1259 1348.4 L1260 1345.3 L1261 1342.2 L1262 1339.1 L1263 1336.1 L1264 1333.2 L1265 1330.4 L1266 1327.7 L1267 1325.1 L1268 1322.7 L1269 1320.4 L1270 1318.2 L1271 1316.1 L1272 1314.3 L1273 1312.6 L1274 1311.1 L1275 1309.8 L1276 1308.7 L1277 1307.7 L1278 1307 L1279 1306.6 L1280 1306.3 L1281 1306.3 L1282 1306.5 L1283 1306.9 L1284 1307.5 L1285 1308.4 L1286 1309.6 L1287 1310.9 L1288 1312.5 L1289 1314.3 L1290 1316.4 L1291 1318.6 L1292 1321.1 L1293 1323.8 L1294 1326.7 L1295 1329.8 L1296 1333.1 L1297 1336.5 L1298 1340.1 L1299 1343.9 L1300 1347.8 L1301 1351.9 L1302 1356.1 L1303 1360.4 L1304 1364.8 L1305 1369.2 L1306 1373.8 L1307 1378.4 L1308 1383.1 L1309 1387.8 L1310 1392.5 L1311 1397.2 L1312 1401.9 L1313 1406.6 L1314 1411.3 L1315 1415.9 L1316 1420.5 L1317 1425 L1318 1429.4 L1319 1433.7 L1320 1438 L1321 1442.1 L1322 1446.2 L1323 1450.1 L1324 1453.9 L1325 1457.5 L1326 1461.1 L1327 1464.5 L1328 1467.7 L1329 1470.8 L1330 1473.8 L1331 1476.6 L1332 1479.3 L1333 1481.8 L1334 1484.2 L1335 1486.5 L1336 1488.6 L1337 1490.6 L1338 1492.5 L1339 1494.2 L1340 1495.9 L1341 1497.4 L1342 1498.8 L1343 1500.1 L1344 1501.3 L1345 1502.5 L1346 1503.5 L1347 1504.5 L1348 1505.5 L1349 1506.4 L1350 1507.2 L1351 1508 L1352 1508.8 L1353 1509.5 L1354 1510.3 L1355 1511 L1356 1511.7 L1357 1512.5 L1358 1513.2 L1359 1513.9 L1360 1514.7 L1361 1515.5 L1362 1516.3 L1363 1517.2 L1364 1518 L1365 1519 L1366 1519.9 L1367 1520.9 L1368 1521.9 L1369 1523 L1370 1524.1 L1371 1525.3 L1372 1526.5 L1373 1527.7 L1374 1528.9 L1375 1530.2 L1376 1531.6 L1377 1532.9 L1378 1534.3 L1379 1535.7 L1380 1537.1 L1381 1538.6 L1382 1540 L1383 1541.5 L1384 1543 L1385 1544.4 L1386 1545.9 L1387 1547.4 L1388 1548.8 L1389 1550.3 L1390 1551.7 L1391 1553.2 L1392 1554.6 L1393 1555.9 L1394 1557.3 L1395 1558.6 L1396 1559.9 L1397 1561.2 L1398 1562.4 L1399 1563.6 L1400 1564.8 L1401 1565.9 L1402 1567 L1403 1568 L1404 1569 L1405 1570 L1406 1570.9 L1407 1571.8 L1408 1572.6 L1409 1573.4 L1410 1574.2 L1411 1574.9 L1412 1575.6 L1413 1576.3 L1414 1576.9 L1415 1577.5 L1416 1578 L1417 1578.5 L1418 1579 L1419 1579.5 L1420 1579.9 L1421 1580.3 L1422 1580.7 L1423 1581 L1424 1581.3 L1425 1581.6 L1426 1581.9 L1427 1582.1 L1428 1582.4 L1429 1582.6 L1430 1582.8 L1431 1583 L1432 1583.1 L1433 1583.2 L1434 1583.2 L1435 1583.3 L1436 1583.3 L1437 1583.3 L1438 1583.4 L1439 1583.4 L1440 1583.5 L1441 1583.6 L1442 1583.7 L1443 1583.9 L1444 1584 L1445 1584.1 L1446 1584.3 L1447 1584.4 L1448 1584.4 L1449 1584.5 L1450 1584.5 L1451 1584.6 L1452 1584.6 L1453 1584.6 L1454 1584.7 L1455 1584.7 L1456 1584.8 L1457 1584.8 L1458 1584.9 L1459 1585 L1460 1585 L1461 1585.1 L1462 1585.1 L1463 1585.1 L1464 1585.1 L1465 1585 L1466 1585 L1467 1584.9 L1468 1584.8 L1469 1584.7 L1470 1584.6 L1471 1584.5 L1472 1584.5 L1473 1584.5 L1474 1584.5 L1475 1584.5 L1476 1584.6 L1477 1584.7 L1478 1584.8 L1479 1584.9 L1480 1585 L1481 1585.1 L1482 1585.1 L1483 1585.2 L1484 1585.2 L1485 1585.2 L1486 1585.2 L1487 1585.1 L1488 1585.1 L1489 1585.1 L1490 1585 L1491 1585 L1492 1584.9 L1493 1584.9 L1494 1584.8 L1495 1584.8 L1496 1584.8 L1497 1584.8 L1498 1584.7 L1499 1584.7 L1500 1584.7 L1501 1584.6 L1502 1584.6 L1503 1584.5 L1504 1584.5 L1505 1584.5 L1506 1584.5 L1507 1584.5 L1508 1584.5 L1509 1584.6 L1510 1584.7 L1511 1584.7 L1512 1584.8 L1513 1584.9 L1514 1585 L1515 1585 L1516 1585.1 L1517 1585.1 L1518 1585.1 L1519 1585.1" fill="none" stroke="#000" stroke-width="6" stroke-linejoin="round" stroke-linecap="round"/>
<path d="M856 1568.8 L857 1568.7 L858 1568.7 L859 1568.7 L860 1568.8 L861 1568.9 L862 1569.1 L863 1569.3 L864 1569.6 L865 1569.9 L866 1570.1 L867 1570.3 L868 1570.5 L869 1570.6 L870 1570.7 L871 1570.8 L872 1570.8 L873 1570.8 L874 1570.7 L875 1570.6 L876 1570.4 L877 1570.3 L878 1570.1 L879 1570 L880 1570 L881 1570 L882 1570 L883 1570 L884 1570 L885 1569.9 L886 1569.8 L887 1569.6 L888 1569.4 L889 1569.2 L890 1569 L891 1568.9 L892 1568.8 L893 1568.8 L894 1568.9 L895 1569.1 L896 1569.2 L897 1569.4 L898 1569.5 L899 1569.6 L900 1569.7 L901 1569.8 L902 1569.9 L903 1570.1 L904 1570.3 L905 1570.4 L906 1570.5 L907 1570.5 L908 1570.4 L909 1570.4 L910 1570.3 L911 1570.2 L912 1570.1 L913 1569.9 L914 1569.8 L915 1569.8 L916 1569.9 L917 1570.1 L918 1570.4 L919 1570.9 L920 1571.6 L921 1572.2 L922 1572.8 L923 1573.3 L924 1573.5 L925 1573.6 L926 1573.5 L927 1573.3 L928 1572.9 L929 1572.6 L930 1572.2 L931 1571.9 L932 1571.6 L933 1571.4 L934 1571.3 L935 1571.2 L936 1571.2 L937 1571.4 L938 1571.5 L939 1571.7 L940 1571.9 L941 1572.1 L942 1572.3 L943 1572.5 L944 1572.6 L945 1572.7 L946 1572.8 L947 1572.8 L948 1572.7 L949 1572.5 L950 1572.3 L951 1572 L952 1571.6 L953 1571.2 L954 1570.8 L955 1570.6 L956 1570.4 L957 1570.4 L958 1570.6 L959 1570.9 L960 1571.2 L961 1571.5 L962 1571.8 L963 1571.9 L964 1571.9 L965 1571.8 L966 1571.6 L967 1571.3 L968 1570.9 L969 1570.5 L970 1570.2 L971 1570 L972 1569.9 L973 1569.8 L974 1569.6 L975 1569.4 L976 1569.1 L977 1568.5 L978 1567.8 L979 1566.9 L980 1566 L981 1565 L982 1564" fill="none" stroke="#000" stroke-width="7.0" stroke-linejoin="round" stroke-linecap="round"/>
<path d="M1436 1583.3 L1437 1583.3 L1438 1583.4 L1439 1583.4 L1440 1583.5 L1441 1583.6 L1442 1583.7 L1443 1583.9 L1444 1584 L1445 1584.1 L1446 1584.3 L1447 1584.4 L1448 1584.4 L1449 1584.5 L1450 1584.5 L1451 1584.6 L1452 1584.6 L1453 1584.6 L1454 1584.7 L1455 1584.7 L1456 1584.8 L1457 1584.8 L1458 1584.9 L1459 1585 L1460 1585 L1461 1585.1 L1462 1585.1 L1463 1585.1 L1464 1585.1 L1465 1585 L1466 1585 L1467 1584.9 L1468 1584.8 L1469 1584.7 L1470 1584.6 L1471 1584.5 L1472 1584.5 L1473 1584.5 L1474 1584.5 L1475 1584.5 L1476 1584.6 L1477 1584.7 L1478 1584.8 L1479 1584.9 L1480 1585 L1481 1585.1 L1482 1585.1 L1483 1585.2 L1484 1585.2 L1485 1585.2 L1486 1585.2 L1487 1585.1 L1488 1585.1 L1489 1585.1 L1490 1585 L1491 1585 L1492 1584.9 L1493 1584.9 L1494 1584.8 L1495 1584.8 L1496 1584.8 L1497 1584.8 L1498 1584.7 L1499 1584.7 L1500 1584.7 L1501 1584.6 L1502 1584.6 L1503 1584.5 L1504 1584.5 L1505 1584.5 L1506 1584.5 L1507 1584.5 L1508 1584.5 L1509 1584.6 L1510 1584.7 L1511 1584.7 L1512 1584.8 L1513 1584.9 L1514 1585 L1515 1585 L1516 1585.1 L1517 1585.1 L1518 1585.1 L1519 1585.1" fill="none" stroke="#000" stroke-width="7.4" stroke-linejoin="round" stroke-linecap="round"/>
<path d="M366.8 314.1 L366.8 908.9" stroke="#000" stroke-width="6.3" stroke-dasharray="17 27.6" stroke-linecap="round" fill="none"/>
<path d="M366.7 935.6 H389.6" stroke="#000" stroke-width="6.3"/>
<path d="M403.7 938.6 L403.7 1592.8" stroke="#000" stroke-width="6.3" stroke-dasharray="17 27.6" stroke-linecap="round" fill="none"/>
<path d="M424.3 188.2 L424.3 876.9" stroke="#000" stroke-width="6.3" stroke-dasharray="17 27.6" stroke-linecap="round" fill="none"/>
<path d="M424.3 899.5 V909.4 H445.1" fill="none" stroke="#000" stroke-width="6.3"/>
<path d="M464.3 912.9 L464.5 1599.8" stroke="#000" stroke-width="6.3" stroke-dasharray="17 27.6" stroke-linecap="round" fill="none"/>
<path d="M629.8 562.1 L629.4 1599.8" stroke="#000" stroke-width="6.3" stroke-dasharray="17 27.6" stroke-linecap="round" fill="none"/>
<path d="M675.3 644.1 L672.2 1593.8" stroke="#000" stroke-width="6.3" stroke-dasharray="17 27.6" stroke-linecap="round" fill="none"/>
<path d="M1198 549.9 L1198.5 1593.8" stroke="#000" stroke-width="6.3" stroke-dasharray="16.6 27.9" stroke-linecap="round" fill="none"/>
<path d="M1265.8 160.7 L1265.4 1598.8" stroke="#000" stroke-width="6.3" stroke-dasharray="16.6 27.9" stroke-linecap="round" fill="none"/>
<path d="M1296 259.6 L1295.7 1606.8" stroke="#000" stroke-width="6.3" stroke-dasharray="16.6 27.9" stroke-linecap="round" fill="none"/>
<path d="M1367.4 560.1 L1367 1598.8" stroke="#000" stroke-width="6.3" stroke-dasharray="16.6 27.9" stroke-linecap="round" fill="none"/>
<path d="M539.6 776 V811.5" stroke="#000" stroke-width="10.5"/>
<path d="M1083.6 742 V762" stroke="#000" stroke-width="9.5"/>
<path d="M237.4 1083.5 L244 1124" stroke="#000" stroke-width="9.5"/>
<path d="M1001.6 1485 V1523" stroke="#000" stroke-width="8.5"/>
<path d="M130.3 1628.35 V35 H798" fill="none" stroke="#000" stroke-width="5.7" stroke-linejoin="round"/>
<path d="M852 35 H1519.7 V1628.35" fill="none" stroke="#000" stroke-width="5.7" stroke-linejoin="round"/>
<path d="M127.7 1625.5 H797.4 V1585" fill="none" stroke="#000" stroke-width="5.7"/>
<path d="M853.6 1585 V1625.5 H1522.3" fill="none" stroke="#000" stroke-width="5.7"/>
<path d="M156 1625.5 V1604 M181.6 1625.5 V1604 M207.3 1625.5 V1604 M232.9 1625.5 V1604 M258.6 1625.5 V1604 M284.2 1625.5 V1585 M309.9 1625.5 V1604 M335.6 1625.5 V1604 M361.2 1625.5 V1604 M386.9 1625.5 V1604 M412.5 1625.5 V1604 M438.2 1625.5 V1604 M463.8 1625.5 V1604 M489.5 1625.5 V1585 M515.2 1625.5 V1604 M540.8 1625.5 V1604 M566.5 1625.5 V1604 M592.1 1625.5 V1604 M617.8 1625.5 V1604 M643.5 1625.5 V1604 M669.1 1625.5 V1604 M694.8 1625.5 V1585 M720.4 1625.5 V1604 M746.1 1625.5 V1604 M771.7 1625.5 V1604" stroke="#000" stroke-width="4.6" fill="none"/>
<path d="M877.4 1625.5 V1604 M901.2 1625.5 V1604 M925 1625.5 V1604 M948.8 1625.5 V1604 M972.5 1625.5 V1604 M996.3 1625.5 V1604 M1020.1 1625.5 V1604 M1043.9 1625.5 V1585 M1067.7 1625.5 V1604 M1091.5 1625.5 V1604 M1115.3 1625.5 V1604 M1139.1 1625.5 V1604 M1162.9 1625.5 V1604 M1186.7 1625.5 V1604 M1210.4 1625.5 V1604 M1234.2 1625.5 V1585 M1258 1625.5 V1604 M1281.8 1625.5 V1604 M1305.6 1625.5 V1604 M1329.4 1625.5 V1604 M1353.2 1625.5 V1604 M1377 1625.5 V1604 M1400.8 1625.5 V1604 M1424.5 1625.5 V1585 M1448.3 1625.5 V1604 M1472.1 1625.5 V1604 M1495.9 1625.5 V1604" stroke="#000" stroke-width="4.6" fill="none"/>
<text transform="translate(139.1 111) scale(1.0316 1)" font-size="69" fill="#111" stroke="#111" stroke-width="0.3">(a)</text>
<text transform="translate(416.3 101.7) scale(0.9659 1)" font-size="53.5" fill="#111" stroke="#111" stroke-width="0.6">C 1s</text>
<text transform="translate(739.2 146.8) scale(1.0151 1)" font-size="54" fill="#111" stroke="#111" stroke-width="0.6">Ni(111)</text>
<text transform="translate(382.2 178.6) scale(0.9417 1)" font-size="49" fill="#ff2b2b" stroke="#ff2b2b" stroke-width="1.4">CO<tspan font-size="36.3" dy="11.8">3</tspan><tspan dy="-11.8">*(I)</tspan></text>
<text transform="translate(232.6 296.8) scale(0.9274 1)" font-size="50" fill="#ff2b2b" stroke="#ff2b2b" stroke-width="1.4">CO<tspan font-size="37" dy="12">3</tspan><tspan dy="-12">*(II)</tspan></text>
<text transform="translate(493.5 547) scale(0.9661 1)" font-size="47" fill="#ff2b2b" stroke="#ff2b2b" stroke-width="1.4">methoxy/CO*</text>
<text transform="translate(653.7 624.2) scale(0.9193 1)" font-size="49.5" fill="#ff2b2b" stroke="#ff2b2b" stroke-width="1.4">graphitic C</text>
<text transform="translate(449.3 842) scale(0.9986 1)" font-size="46" fill="#111" stroke="#111" stroke-width="0.6">formate</text>
<text transform="translate(146.1 859.5) scale(1.0672 1)" font-size="69" fill="#111" stroke="#111" stroke-width="0.3">(b)</text>
<text transform="translate(745.2 908.8) scale(0.9652 1)" font-size="54" fill="#111" stroke="#111" stroke-width="0.6">Ni(100)</text>
<text transform="translate(149.7 1072.5) scale(0.9064 1)" font-size="50.5" fill="#111" stroke="#111" stroke-width="0.6">CO<tspan font-size="37.4" dy="10">2</tspan><tspan dy="-10">(gas)</tspan></text>
<text transform="translate(1027.3 99.3) scale(0.9824 1)" font-size="53" fill="#111" stroke="#111" stroke-width="0.6">O 1s</text>
<text transform="translate(1424 110) scale(1.0499 1)" font-size="69" fill="#111" stroke="#111" stroke-width="0.3">(c)</text>
<text transform="translate(1175.6 143) scale(0.9490 1)" font-size="48" fill="#ff2b2b" stroke="#ff2b2b" stroke-width="1.4">CO<tspan font-size="35.5" dy="11.5">3</tspan><tspan dy="-11.5">*/CO*</tspan></text>
<text transform="translate(1287.4 258) scale(0.9522 1)" font-size="48.5" fill="#ff2b2b" stroke="#ff2b2b" stroke-width="1.4">OH</text>
<text transform="translate(1076.7 517.7) scale(1.0429 1)" font-size="45" fill="#ff2b2b" stroke="#ff2b2b" stroke-width="1.4">H<tspan font-size="33.8" dy="11.5">2</tspan><tspan dy="-11.5">O</tspan><tspan font-size="29.7" dy="11.5">ads</tspan></text>
<text transform="translate(1342.5 545.8) scale(1.0143 1)" font-size="45" fill="#ff2b2b" stroke="#ff2b2b" stroke-width="1.4">NiO</text>
<text transform="translate(981.3 809.5) scale(0.9063 1)" font-size="50.5" fill="#111" stroke="#111" stroke-width="0.6">H<tspan font-size="37.4" dy="10">2</tspan><tspan dy="-10">O(gas)</tspan></text>
<text transform="translate(1420.3 861.5) scale(1.0369 1)" font-size="69" fill="#111" stroke="#111" stroke-width="0.3">(d)</text>
<text transform="translate(912.3 1466) scale(0.8986 1)" font-size="50.5" fill="#111" stroke="#111" stroke-width="0.6">CO<tspan font-size="37.4" dy="10">2</tspan><tspan dy="-10">(gas)</tspan></text>
<text transform="translate(246.1 1692.5) scale(1.0366 1)" font-size="45" fill="#111" stroke="#111" stroke-width="0.6">292</text>
<text transform="translate(450.4 1692.5) scale(1.0300 1)" font-size="45" fill="#111" stroke="#111" stroke-width="0.6">288</text>
<text transform="translate(655.2 1692.5) scale(1.0203 1)" font-size="45" fill="#111" stroke="#111" stroke-width="0.6">284</text>
<text transform="translate(814.3 1692.5) scale(1.0203 1)" font-size="45" fill="#111" stroke="#111" stroke-width="0.6">540</text>
<text transform="translate(1005.3 1692.5) scale(1.0235 1)" font-size="45" fill="#111" stroke="#111" stroke-width="0.6">536</text>
<text transform="translate(1196.1 1692.5) scale(1.0300 1)" font-size="45" fill="#111" stroke="#111" stroke-width="0.6">532</text>
<text transform="translate(1387.2 1692.5) scale(1.0235 1)" font-size="45" fill="#111" stroke="#111" stroke-width="0.6">528</text>
<text transform="translate(550.1 1750.7) scale(1.0047 1)" font-size="56" fill="#111" stroke="#111" stroke-width="0.6">Binding Energy (eV)</text>
<g transform="translate(75.5 1090) rotate(-90)"><text transform="translate(-5.8 0) scale(1.0538 1)" font-size="61" fill="#111" stroke="#111" stroke-width="0.6">Intensity (a.u.)</text></g>
</g>
</svg>
</body></html>
